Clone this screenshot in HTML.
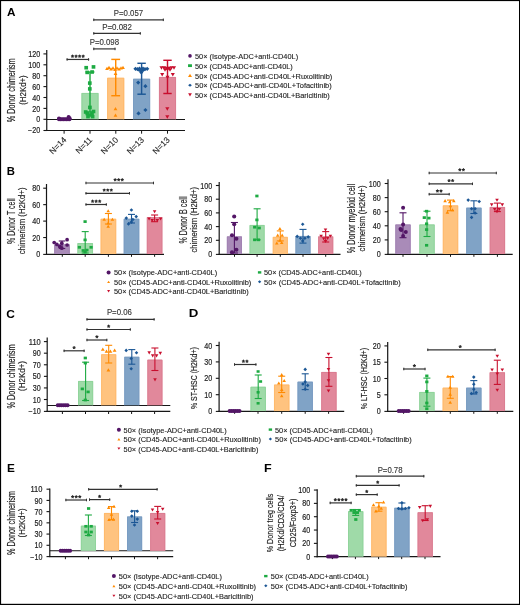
<!DOCTYPE html>
<html><head><meta charset="utf-8"><style>
html,body{margin:0;padding:0;background:#fff;overflow:hidden;}
svg{display:block;font-family:"Liberation Sans", sans-serif;will-change:transform;}
text{stroke:currentColor;stroke-width:0.12px;}
</style></head><body>
<svg width="520" height="605" viewBox="0 0 520 605">
<defs><filter id="bl" x="-2%" y="-2%" width="104%" height="104%"><feGaussianBlur stdDeviation="0.45"/></filter></defs>
<rect x="0" y="0" width="520" height="605" fill="#fff"/>
<g filter="url(#bl)">
<rect x="0" y="0" width="520" height="605" fill="#fff"/>
<text x="11.15" y="15.70" font-size="11.3" text-anchor="middle" font-weight="bold" fill="#000" color="#000" textLength="8.5" lengthAdjust="spacingAndGlyphs" style="stroke-width:0px">A</text>
<line x1="46.75" y1="50.00" x2="46.75" y2="131.00" stroke="#151515" stroke-width="1.2"/>
<line x1="43.45" y1="53.90" x2="46.75" y2="53.90" stroke="#151515" stroke-width="1.1"/>
<text x="40.20" y="57.00" font-size="8.4" text-anchor="end" font-weight="normal" fill="#222" color="#222" textLength="11.99" lengthAdjust="spacingAndGlyphs" style="stroke-width:0.18px">120</text>
<line x1="43.45" y1="64.80" x2="46.75" y2="64.80" stroke="#151515" stroke-width="1.1"/>
<text x="40.20" y="67.90" font-size="8.4" text-anchor="end" font-weight="normal" fill="#222" color="#222" textLength="11.99" lengthAdjust="spacingAndGlyphs" style="stroke-width:0.18px">100</text>
<line x1="43.45" y1="75.70" x2="46.75" y2="75.70" stroke="#151515" stroke-width="1.1"/>
<text x="40.20" y="78.80" font-size="8.4" text-anchor="end" font-weight="normal" fill="#222" color="#222" textLength="7.99" lengthAdjust="spacingAndGlyphs" style="stroke-width:0.18px">80</text>
<line x1="43.45" y1="86.60" x2="46.75" y2="86.60" stroke="#151515" stroke-width="1.1"/>
<text x="40.20" y="89.70" font-size="8.4" text-anchor="end" font-weight="normal" fill="#222" color="#222" textLength="7.99" lengthAdjust="spacingAndGlyphs" style="stroke-width:0.18px">60</text>
<line x1="43.45" y1="97.50" x2="46.75" y2="97.50" stroke="#151515" stroke-width="1.1"/>
<text x="40.20" y="100.60" font-size="8.4" text-anchor="end" font-weight="normal" fill="#222" color="#222" textLength="7.99" lengthAdjust="spacingAndGlyphs" style="stroke-width:0.18px">40</text>
<line x1="43.45" y1="108.40" x2="46.75" y2="108.40" stroke="#151515" stroke-width="1.1"/>
<text x="40.20" y="111.50" font-size="8.4" text-anchor="end" font-weight="normal" fill="#222" color="#222" textLength="7.99" lengthAdjust="spacingAndGlyphs" style="stroke-width:0.18px">20</text>
<line x1="43.45" y1="119.30" x2="46.75" y2="119.30" stroke="#151515" stroke-width="1.1"/>
<text x="40.20" y="122.40" font-size="8.4" text-anchor="end" font-weight="normal" fill="#222" color="#222" textLength="4.0" lengthAdjust="spacingAndGlyphs" style="stroke-width:0.18px">0</text>
<line x1="43.45" y1="130.50" x2="46.75" y2="130.50" stroke="#151515" stroke-width="1.1"/>
<text x="40.20" y="133.30" font-size="8.4" text-anchor="end" font-weight="normal" fill="#222" color="#222" textLength="12.19" lengthAdjust="spacingAndGlyphs" style="stroke-width:0.18px">−20</text>
<line x1="46.15" y1="130.50" x2="185.00" y2="130.50" stroke="#151515" stroke-width="1.2"/>
<line x1="64.10" y1="130.50" x2="64.10" y2="133.70" stroke="#151515" stroke-width="1"/>
<line x1="90.00" y1="130.50" x2="90.00" y2="133.70" stroke="#151515" stroke-width="1"/>
<line x1="115.80" y1="130.50" x2="115.80" y2="133.70" stroke="#151515" stroke-width="1"/>
<line x1="141.60" y1="130.50" x2="141.60" y2="133.70" stroke="#151515" stroke-width="1"/>
<line x1="167.50" y1="130.50" x2="167.50" y2="133.70" stroke="#151515" stroke-width="1"/>
<line x1="46.75" y1="119.50" x2="185.00" y2="119.50" stroke="#151515" stroke-width="1.1"/>
<text transform="translate(14.90,90.30) rotate(-90)" font-size="10.3" text-anchor="middle" font-weight="normal" fill="#222" color="#222" textLength="63.8" lengthAdjust="spacingAndGlyphs" style="stroke-width:0.16px">% Donor chimerism</text>
<text transform="translate(26.00,90.00) rotate(-90)" font-size="8.8" text-anchor="middle" font-weight="normal" fill="#222" color="#222" textLength="29.5" lengthAdjust="spacingAndGlyphs" style="stroke-width:0.16px">(H2Kd+)</text>
<rect x="81.50" y="93.00" width="17.00" height="26.30" fill="#9fdaa8"/>
<path d="M81.90,119.30V93.40H98.10V119.30" fill="none" stroke="#8bd297" stroke-width="0.8"/>
<line x1="90.00" y1="72.00" x2="90.00" y2="112.00" stroke="#1eaa42" stroke-width="1.45"/>
<line x1="85.60" y1="72.00" x2="94.40" y2="72.00" stroke="#1eaa42" stroke-width="1.45"/>
<line x1="85.60" y1="112.00" x2="94.40" y2="112.00" stroke="#1eaa42" stroke-width="1.45"/>
<rect x="107.20" y="77.80" width="17.00" height="41.50" fill="#ffc37f"/>
<path d="M107.60,119.30V78.20H123.80V119.30" fill="none" stroke="#ffb664" stroke-width="0.8"/>
<line x1="115.70" y1="59.40" x2="115.70" y2="95.70" stroke="#ff8a00" stroke-width="1.45"/>
<line x1="111.30" y1="59.40" x2="120.10" y2="59.40" stroke="#ff8a00" stroke-width="1.45"/>
<line x1="111.30" y1="95.70" x2="120.10" y2="95.70" stroke="#ff8a00" stroke-width="1.45"/>
<rect x="133.10" y="78.80" width="17.00" height="40.50" fill="#80a3c6"/>
<path d="M133.50,119.30V79.20H149.70V119.30" fill="none" stroke="#7699c0" stroke-width="0.8"/>
<line x1="141.60" y1="63.30" x2="141.60" y2="94.20" stroke="#1b5795" stroke-width="1.45"/>
<line x1="137.40" y1="63.30" x2="145.80" y2="63.30" stroke="#1b5795" stroke-width="1.45"/>
<line x1="137.40" y1="94.20" x2="145.80" y2="94.20" stroke="#1b5795" stroke-width="1.45"/>
<rect x="159.00" y="77.00" width="17.00" height="42.30" fill="#e1889b"/>
<path d="M159.40,119.30V77.40H175.60V119.30" fill="none" stroke="#d97a8e" stroke-width="0.8"/>
<line x1="167.50" y1="60.30" x2="167.50" y2="93.50" stroke="#c8102e" stroke-width="1.45"/>
<line x1="163.30" y1="60.30" x2="171.70" y2="60.30" stroke="#c8102e" stroke-width="1.45"/>
<line x1="163.30" y1="93.50" x2="171.70" y2="93.50" stroke="#c8102e" stroke-width="1.45"/>
<circle cx="59.00" cy="119.30" r="2.00" fill="#521566"/>
<circle cx="60.50" cy="119.30" r="2.00" fill="#521566"/>
<circle cx="62.00" cy="119.30" r="2.00" fill="#521566"/>
<circle cx="63.50" cy="119.30" r="2.00" fill="#521566"/>
<circle cx="65.00" cy="119.30" r="2.00" fill="#521566"/>
<circle cx="66.50" cy="119.30" r="2.00" fill="#521566"/>
<circle cx="68.00" cy="119.30" r="2.00" fill="#521566"/>
<circle cx="69.50" cy="119.30" r="2.00" fill="#521566"/>
<circle cx="59.00" cy="118.40" r="2.00" fill="#521566"/>
<circle cx="68.60" cy="116.90" r="2.00" fill="#521566"/>
<circle cx="69.60" cy="118.20" r="2.00" fill="#521566"/>
<rect x="84.35" y="65.91" width="3.70" height="3.59" fill="#1eaa42"/>
<rect x="91.65" y="65.11" width="3.70" height="3.59" fill="#1eaa42"/>
<rect x="85.35" y="70.61" width="3.70" height="3.59" fill="#1eaa42"/>
<rect x="90.25" y="70.21" width="3.70" height="3.59" fill="#1eaa42"/>
<rect x="87.95" y="81.31" width="3.70" height="3.59" fill="#1eaa42"/>
<rect x="87.95" y="87.11" width="3.70" height="3.59" fill="#1eaa42"/>
<rect x="88.05" y="105.61" width="3.70" height="3.59" fill="#1eaa42"/>
<rect x="83.85" y="110.21" width="3.70" height="3.59" fill="#1eaa42"/>
<rect x="91.65" y="109.71" width="3.70" height="3.59" fill="#1eaa42"/>
<rect x="85.45" y="111.71" width="3.70" height="3.59" fill="#1eaa42"/>
<rect x="90.15" y="111.71" width="3.70" height="3.59" fill="#1eaa42"/>
<rect x="86.15" y="114.81" width="3.70" height="3.59" fill="#1eaa42"/>
<rect x="90.75" y="114.81" width="3.70" height="3.59" fill="#1eaa42"/>
<rect x="88.15" y="113.21" width="3.70" height="3.59" fill="#1eaa42"/>
<path d="M107.00,66.70L108.89,69.94L105.11,69.94Z" fill="#ff8a00"/>
<path d="M109.00,65.70L110.89,68.94L107.11,68.94Z" fill="#ff8a00"/>
<path d="M111.00,67.20L112.89,70.44L109.11,70.44Z" fill="#ff8a00"/>
<path d="M113.00,66.20L114.89,69.44L111.11,69.44Z" fill="#ff8a00"/>
<path d="M115.00,67.70L116.89,70.94L113.11,70.94Z" fill="#ff8a00"/>
<path d="M117.00,66.20L118.89,69.44L115.11,69.44Z" fill="#ff8a00"/>
<path d="M119.00,67.20L120.89,70.44L117.11,70.44Z" fill="#ff8a00"/>
<path d="M121.00,66.20L122.89,69.44L119.11,69.44Z" fill="#ff8a00"/>
<path d="M123.00,65.70L124.89,68.94L121.11,68.94Z" fill="#ff8a00"/>
<path d="M115.50,71.70L117.39,74.94L113.61,74.94Z" fill="#ff8a00"/>
<path d="M115.50,107.00L117.39,110.24L113.61,110.24Z" fill="#ff8a00"/>
<path d="M115.50,113.40L117.39,116.64L113.61,116.64Z" fill="#ff8a00"/>
<path d="M135.50,66.70L137.60,68.80L135.50,70.90L133.40,68.80Z" fill="#1b5795"/>
<path d="M137.50,67.10L139.60,69.20L137.50,71.30L135.40,69.20Z" fill="#1b5795"/>
<path d="M139.20,67.90L141.30,70.00L139.20,72.10L137.10,70.00Z" fill="#1b5795"/>
<path d="M141.30,68.90L143.40,71.00L141.30,73.10L139.20,71.00Z" fill="#1b5795"/>
<path d="M143.30,67.90L145.40,70.00L143.30,72.10L141.20,70.00Z" fill="#1b5795"/>
<path d="M145.00,67.10L147.10,69.20L145.00,71.30L142.90,69.20Z" fill="#1b5795"/>
<path d="M147.20,66.70L149.30,68.80L147.20,70.90L145.10,68.80Z" fill="#1b5795"/>
<path d="M141.30,70.40L143.40,72.50L141.30,74.60L139.20,72.50Z" fill="#1b5795"/>
<path d="M141.30,67.40L143.40,69.50L141.30,71.60L139.20,69.50Z" fill="#1b5795"/>
<path d="M139.50,66.40L141.60,68.50L139.50,70.60L137.40,68.50Z" fill="#1b5795"/>
<path d="M143.00,66.40L145.10,68.50L143.00,70.60L140.90,68.50Z" fill="#1b5795"/>
<path d="M138.20,80.50L140.30,82.60L138.20,84.70L136.10,82.60Z" fill="#1b5795"/>
<path d="M145.40,84.10L147.50,86.20L145.40,88.30L143.30,86.20Z" fill="#1b5795"/>
<path d="M138.50,111.30L140.60,113.40L138.50,115.50L136.40,113.40Z" fill="#1b5795"/>
<path d="M145.40,107.90L147.50,110.00L145.40,112.10L143.30,110.00Z" fill="#1b5795"/>
<path d="M161.50,69.75L163.55,66.24L159.45,66.24Z" fill="#c8102e"/>
<path d="M164.00,69.75L166.05,66.24L161.95,66.24Z" fill="#c8102e"/>
<path d="M166.50,70.15L168.55,66.64L164.45,66.64Z" fill="#c8102e"/>
<path d="M169.00,70.15L171.05,66.64L166.95,66.64Z" fill="#c8102e"/>
<path d="M171.50,69.75L173.55,66.24L169.45,66.24Z" fill="#c8102e"/>
<path d="M174.00,69.75L176.05,66.24L171.95,66.24Z" fill="#c8102e"/>
<path d="M165.00,71.75L167.05,68.24L162.95,68.24Z" fill="#c8102e"/>
<path d="M170.00,71.75L172.05,68.24L167.95,68.24Z" fill="#c8102e"/>
<path d="M167.50,71.25L169.55,67.74L165.45,67.74Z" fill="#c8102e"/>
<path d="M162.20,76.55L164.25,73.04L160.15,73.04Z" fill="#c8102e"/>
<path d="M172.80,76.55L174.85,73.04L170.75,73.04Z" fill="#c8102e"/>
<path d="M167.50,79.15L169.55,75.64L165.45,75.64Z" fill="#c8102e"/>
<path d="M167.30,110.75L169.35,107.24L165.25,107.24Z" fill="#c8102e"/>
<path d="M167.30,118.85L169.35,115.34L165.25,115.34Z" fill="#c8102e"/>
<text transform="translate(67.00,140.40) rotate(-45)" font-size="8.4" text-anchor="end" font-weight="normal" fill="#222" color="#222" style="stroke-width:0.1px">N=14</text>
<text transform="translate(92.90,140.40) rotate(-45)" font-size="8.4" text-anchor="end" font-weight="normal" fill="#222" color="#222" style="stroke-width:0.1px">N=11</text>
<text transform="translate(118.70,140.40) rotate(-45)" font-size="8.4" text-anchor="end" font-weight="normal" fill="#222" color="#222" style="stroke-width:0.1px">N=10</text>
<text transform="translate(144.50,140.40) rotate(-45)" font-size="8.4" text-anchor="end" font-weight="normal" fill="#222" color="#222" style="stroke-width:0.1px">N=13</text>
<text transform="translate(170.40,140.40) rotate(-45)" font-size="8.4" text-anchor="end" font-weight="normal" fill="#222" color="#222" style="stroke-width:0.1px">N=13</text>
<line x1="66.60" y1="59.45" x2="89.10" y2="59.45" stroke="#333" stroke-width="1.2"/>
<line x1="67.10" y1="58.15" x2="67.10" y2="60.75" stroke="#333" stroke-width="1"/>
<line x1="88.60" y1="58.15" x2="88.60" y2="60.75" stroke="#333" stroke-width="1"/>
<path d="M72.52,56.25L72.52,55.10M72.52,56.25L71.43,55.89M72.52,56.25L71.85,57.18M72.52,56.25L73.20,57.18M72.52,56.25L73.62,55.89" stroke="#2a2a2a" stroke-width="1.1" stroke-linecap="round" fill="none"/>
<path d="M76.07,56.25L76.07,55.10M76.07,56.25L74.98,55.89M76.07,56.25L75.40,57.18M76.07,56.25L76.75,57.18M76.07,56.25L77.17,55.89" stroke="#2a2a2a" stroke-width="1.1" stroke-linecap="round" fill="none"/>
<path d="M79.62,56.25L79.62,55.10M79.62,56.25L78.53,55.89M79.62,56.25L78.95,57.18M79.62,56.25L80.30,57.18M79.62,56.25L80.72,55.89" stroke="#2a2a2a" stroke-width="1.1" stroke-linecap="round" fill="none"/>
<path d="M83.17,56.25L83.17,55.10M83.17,56.25L82.08,55.89M83.17,56.25L82.50,57.18M83.17,56.25L83.85,57.18M83.17,56.25L84.27,55.89" stroke="#2a2a2a" stroke-width="1.1" stroke-linecap="round" fill="none"/>
<line x1="93.30" y1="48.90" x2="115.50" y2="48.90" stroke="#333" stroke-width="1.2"/>
<line x1="93.80" y1="47.60" x2="93.80" y2="50.20" stroke="#333" stroke-width="1"/>
<line x1="115.00" y1="47.60" x2="115.00" y2="50.20" stroke="#333" stroke-width="1"/>
<text x="104.40" y="44.80" font-size="8.5" text-anchor="middle" font-weight="normal" fill="#333" color="#333" textLength="29.4" lengthAdjust="spacingAndGlyphs">P=0.098</text>
<line x1="93.30" y1="33.40" x2="140.80" y2="33.40" stroke="#333" stroke-width="1.2"/>
<line x1="93.80" y1="32.10" x2="93.80" y2="34.70" stroke="#333" stroke-width="1"/>
<line x1="140.30" y1="32.10" x2="140.30" y2="34.70" stroke="#333" stroke-width="1"/>
<text x="117.00" y="29.60" font-size="8.5" text-anchor="middle" font-weight="normal" fill="#333" color="#333" textLength="29.7" lengthAdjust="spacingAndGlyphs">P=0.082</text>
<line x1="93.30" y1="19.80" x2="163.80" y2="19.80" stroke="#333" stroke-width="1.2"/>
<line x1="93.80" y1="18.50" x2="93.80" y2="21.10" stroke="#333" stroke-width="1"/>
<line x1="163.30" y1="18.50" x2="163.30" y2="21.10" stroke="#333" stroke-width="1"/>
<text x="128.50" y="15.70" font-size="8.5" text-anchor="middle" font-weight="normal" fill="#333" color="#333" textLength="29.3" lengthAdjust="spacingAndGlyphs">P=0.057</text>
<ellipse cx="190.00" cy="55.90" rx="1.80" ry="1.80" fill="#521566"/>
<text x="195.00" y="59.10" font-size="7.9" text-anchor="start" font-weight="normal" fill="#222" color="#222" textLength="103.1" lengthAdjust="spacingAndGlyphs" style="stroke-width:0.12px">50× (Isotype-ADC+anti-CD40L)</text>
<rect x="188.05" y="64.25" width="3.90" height="2.80" fill="#1eaa42"/>
<text x="195.00" y="68.85" font-size="7.9" text-anchor="start" font-weight="normal" fill="#222" color="#222" textLength="97.8" lengthAdjust="spacingAndGlyphs" style="stroke-width:0.12px">50× (CD45-ADC+anti-CD40L)</text>
<path d="M190.00,73.80L192.00,77.00L188.00,77.00Z" fill="#ff8a00"/>
<text x="195.00" y="78.60" font-size="7.9" text-anchor="start" font-weight="normal" fill="#222" color="#222" textLength="137.3" lengthAdjust="spacingAndGlyphs" style="stroke-width:0.12px">50× (CD45-ADC+anti-CD40L+Ruxolitinib)</text>
<path d="M190.00,83.65L191.90,85.15L190.00,86.65L188.10,85.15Z" fill="#1b5795"/>
<text x="195.00" y="88.35" font-size="7.9" text-anchor="start" font-weight="normal" fill="#222" color="#222" textLength="136.7" lengthAdjust="spacingAndGlyphs" style="stroke-width:0.12px">50× (CD45-ADC+anti-CD40L+Tofacitinib)</text>
<path d="M190.00,96.50L191.85,93.30L188.15,93.30Z" fill="#c8102e"/>
<text x="195.00" y="98.10" font-size="7.9" text-anchor="start" font-weight="normal" fill="#222" color="#222" textLength="134.8" lengthAdjust="spacingAndGlyphs" style="stroke-width:0.12px">50× (CD45-ADC+anti-CD40L+Baricitinib)</text>
<text x="10.80" y="174.50" font-size="11.3" text-anchor="middle" font-weight="bold" fill="#000" color="#000" textLength="8.18" lengthAdjust="spacingAndGlyphs" style="stroke-width:0px">B</text>
<line x1="46.50" y1="184.00" x2="46.50" y2="254.90" stroke="#151515" stroke-width="1.2"/>
<line x1="43.20" y1="188.20" x2="46.50" y2="188.20" stroke="#151515" stroke-width="1.1"/>
<text x="40.20" y="191.30" font-size="8.4" text-anchor="end" font-weight="normal" fill="#222" color="#222" textLength="7.99" lengthAdjust="spacingAndGlyphs" style="stroke-width:0.18px">80</text>
<line x1="43.20" y1="204.65" x2="46.50" y2="204.65" stroke="#151515" stroke-width="1.1"/>
<text x="40.20" y="207.75" font-size="8.4" text-anchor="end" font-weight="normal" fill="#222" color="#222" textLength="7.99" lengthAdjust="spacingAndGlyphs" style="stroke-width:0.18px">60</text>
<line x1="43.20" y1="221.10" x2="46.50" y2="221.10" stroke="#151515" stroke-width="1.1"/>
<text x="40.20" y="224.20" font-size="8.4" text-anchor="end" font-weight="normal" fill="#222" color="#222" textLength="7.99" lengthAdjust="spacingAndGlyphs" style="stroke-width:0.18px">40</text>
<line x1="43.20" y1="237.55" x2="46.50" y2="237.55" stroke="#151515" stroke-width="1.1"/>
<text x="40.20" y="240.65" font-size="8.4" text-anchor="end" font-weight="normal" fill="#222" color="#222" textLength="7.99" lengthAdjust="spacingAndGlyphs" style="stroke-width:0.18px">20</text>
<line x1="43.20" y1="254.40" x2="46.50" y2="254.40" stroke="#151515" stroke-width="1.1"/>
<text x="40.20" y="257.10" font-size="8.4" text-anchor="end" font-weight="normal" fill="#222" color="#222" textLength="4.0" lengthAdjust="spacingAndGlyphs" style="stroke-width:0.18px">0</text>
<line x1="45.90" y1="254.40" x2="164.00" y2="254.40" stroke="#151515" stroke-width="1.2"/>
<line x1="62.30" y1="254.40" x2="62.30" y2="256.80" stroke="#151515" stroke-width="1"/>
<line x1="85.20" y1="254.40" x2="85.20" y2="256.80" stroke="#151515" stroke-width="1"/>
<line x1="108.40" y1="254.40" x2="108.40" y2="256.80" stroke="#151515" stroke-width="1"/>
<line x1="131.50" y1="254.40" x2="131.50" y2="256.80" stroke="#151515" stroke-width="1"/>
<line x1="154.60" y1="254.40" x2="154.60" y2="256.80" stroke="#151515" stroke-width="1"/>
<text transform="translate(14.90,221.20) rotate(-90)" font-size="10.3" text-anchor="middle" font-weight="normal" fill="#222" color="#222" textLength="45.5" lengthAdjust="spacingAndGlyphs" style="stroke-width:0.16px">% Donor T cell</text>
<text transform="translate(25.40,220.90) rotate(-90)" font-size="9.0" text-anchor="middle" font-weight="normal" fill="#222" color="#222" textLength="66.8" lengthAdjust="spacingAndGlyphs" style="stroke-width:0.16px">chimerism (H2Kd+)</text>
<rect x="54.25" y="244.40" width="15.50" height="9.60" fill="#a98bb8"/>
<path d="M54.65,254.00V244.80H69.35V254.00" fill="none" stroke="#9e7db0" stroke-width="0.8"/>
<line x1="62.00" y1="241.00" x2="62.00" y2="248.50" stroke="#521566" stroke-width="1.1"/>
<line x1="58.75" y1="241.00" x2="65.25" y2="241.00" stroke="#521566" stroke-width="1.1"/>
<line x1="58.75" y1="248.50" x2="65.25" y2="248.50" stroke="#521566" stroke-width="1.1"/>
<rect x="77.45" y="243.10" width="15.50" height="10.90" fill="#9fdaa8"/>
<path d="M77.85,254.00V243.50H92.55V254.00" fill="none" stroke="#8bd297" stroke-width="0.8"/>
<line x1="85.20" y1="231.60" x2="85.20" y2="253.00" stroke="#1eaa42" stroke-width="1.1"/>
<line x1="81.70" y1="231.60" x2="88.70" y2="231.60" stroke="#1eaa42" stroke-width="1.1"/>
<line x1="81.70" y1="253.00" x2="88.70" y2="253.00" stroke="#1eaa42" stroke-width="1.1"/>
<rect x="100.65" y="218.80" width="15.50" height="35.20" fill="#ffc37f"/>
<path d="M101.05,254.00V219.20H115.75V254.00" fill="none" stroke="#ffb664" stroke-width="0.8"/>
<line x1="108.40" y1="213.50" x2="108.40" y2="224.00" stroke="#ff8a00" stroke-width="1.1"/>
<line x1="104.90" y1="213.50" x2="111.90" y2="213.50" stroke="#ff8a00" stroke-width="1.1"/>
<line x1="104.90" y1="224.00" x2="111.90" y2="224.00" stroke="#ff8a00" stroke-width="1.1"/>
<rect x="123.75" y="218.80" width="15.50" height="35.20" fill="#80a3c6"/>
<path d="M124.15,254.00V219.20H138.85V254.00" fill="none" stroke="#7699c0" stroke-width="0.8"/>
<line x1="131.50" y1="214.40" x2="131.50" y2="223.00" stroke="#1b5795" stroke-width="1.1"/>
<line x1="128.00" y1="214.40" x2="135.00" y2="214.40" stroke="#1b5795" stroke-width="1.1"/>
<line x1="128.00" y1="223.00" x2="135.00" y2="223.00" stroke="#1b5795" stroke-width="1.1"/>
<rect x="146.85" y="217.20" width="15.50" height="36.80" fill="#e1889b"/>
<path d="M147.25,254.00V217.60H161.95V254.00" fill="none" stroke="#d97a8e" stroke-width="0.8"/>
<line x1="154.60" y1="215.00" x2="154.60" y2="221.70" stroke="#c8102e" stroke-width="1.1"/>
<line x1="151.10" y1="215.00" x2="158.10" y2="215.00" stroke="#c8102e" stroke-width="1.1"/>
<line x1="151.10" y1="221.70" x2="158.10" y2="221.70" stroke="#c8102e" stroke-width="1.1"/>
<circle cx="54.20" cy="242.50" r="1.85" fill="#521566"/>
<circle cx="56.90" cy="244.40" r="1.85" fill="#521566"/>
<circle cx="61.80" cy="243.20" r="1.85" fill="#521566"/>
<circle cx="67.10" cy="239.70" r="1.85" fill="#521566"/>
<circle cx="67.10" cy="245.00" r="1.85" fill="#521566"/>
<circle cx="61.80" cy="248.20" r="1.85" fill="#521566"/>
<circle cx="59.70" cy="246.40" r="1.85" fill="#521566"/>
<rect x="83.48" y="220.24" width="3.23" height="2.72" fill="#1eaa42"/>
<rect x="83.48" y="238.54" width="3.23" height="2.72" fill="#1eaa42"/>
<rect x="77.79" y="245.94" width="3.23" height="2.72" fill="#1eaa42"/>
<rect x="89.48" y="245.94" width="3.23" height="2.72" fill="#1eaa42"/>
<rect x="81.59" y="249.14" width="3.23" height="2.72" fill="#1eaa42"/>
<rect x="85.29" y="248.74" width="3.23" height="2.72" fill="#1eaa42"/>
<rect x="83.48" y="250.64" width="3.23" height="2.72" fill="#1eaa42"/>
<path d="M108.20,209.30L109.98,212.36L106.42,212.36Z" fill="#ff8a00"/>
<path d="M104.20,217.80L105.98,220.86L102.42,220.86Z" fill="#ff8a00"/>
<path d="M112.40,217.80L114.19,220.86L110.62,220.86Z" fill="#ff8a00"/>
<path d="M108.20,221.50L109.98,224.56L106.42,224.56Z" fill="#ff8a00"/>
<path d="M108.20,224.80L109.98,227.86L106.42,227.86Z" fill="#ff8a00"/>
<path d="M131.40,208.22L133.19,210.00L131.40,211.78L129.62,210.00Z" fill="#1b5795"/>
<path d="M126.30,216.31L128.09,218.10L126.30,219.88L124.52,218.10Z" fill="#1b5795"/>
<path d="M136.20,214.81L137.98,216.60L136.20,218.38L134.41,216.60Z" fill="#1b5795"/>
<path d="M128.50,222.12L130.28,223.90L128.50,225.69L126.72,223.90Z" fill="#1b5795"/>
<path d="M131.40,220.31L133.19,222.10L131.40,223.88L129.62,222.10Z" fill="#1b5795"/>
<path d="M132.90,217.72L134.69,219.50L132.90,221.28L131.12,219.50Z" fill="#1b5795"/>
<path d="M154.60,213.20L156.38,210.14L152.81,210.14Z" fill="#c8102e"/>
<path d="M149.10,220.50L150.88,217.44L147.31,217.44Z" fill="#c8102e"/>
<path d="M160.60,220.50L162.38,217.44L158.81,217.44Z" fill="#c8102e"/>
<path d="M152.20,222.00L153.98,218.94L150.41,218.94Z" fill="#c8102e"/>
<path d="M157.30,222.00L159.09,218.94L155.52,218.94Z" fill="#c8102e"/>
<line x1="85.50" y1="204.50" x2="106.80" y2="204.50" stroke="#333" stroke-width="1.2"/>
<line x1="86.00" y1="203.20" x2="86.00" y2="205.80" stroke="#333" stroke-width="1"/>
<line x1="106.30" y1="203.20" x2="106.30" y2="205.80" stroke="#333" stroke-width="1"/>
<path d="M92.60,201.30L92.60,200.15M92.60,201.30L91.51,200.94M92.60,201.30L91.92,202.23M92.60,201.30L93.28,202.23M92.60,201.30L93.69,200.94" stroke="#2a2a2a" stroke-width="1.1" stroke-linecap="round" fill="none"/>
<path d="M96.15,201.30L96.15,200.15M96.15,201.30L95.06,200.94M96.15,201.30L95.47,202.23M96.15,201.30L96.83,202.23M96.15,201.30L97.24,200.94" stroke="#2a2a2a" stroke-width="1.1" stroke-linecap="round" fill="none"/>
<path d="M99.70,201.30L99.70,200.15M99.70,201.30L98.61,200.94M99.70,201.30L99.02,202.23M99.70,201.30L100.38,202.23M99.70,201.30L100.79,200.94" stroke="#2a2a2a" stroke-width="1.1" stroke-linecap="round" fill="none"/>
<line x1="85.50" y1="193.30" x2="130.00" y2="193.30" stroke="#333" stroke-width="1.2"/>
<line x1="86.00" y1="192.00" x2="86.00" y2="194.60" stroke="#333" stroke-width="1"/>
<line x1="129.50" y1="192.00" x2="129.50" y2="194.60" stroke="#333" stroke-width="1"/>
<path d="M104.20,190.10L104.20,188.95M104.20,190.10L103.11,189.74M104.20,190.10L103.52,191.03M104.20,190.10L104.88,191.03M104.20,190.10L105.29,189.74" stroke="#2a2a2a" stroke-width="1.1" stroke-linecap="round" fill="none"/>
<path d="M107.75,190.10L107.75,188.95M107.75,190.10L106.66,189.74M107.75,190.10L107.07,191.03M107.75,190.10L108.43,191.03M107.75,190.10L108.84,189.74" stroke="#2a2a2a" stroke-width="1.1" stroke-linecap="round" fill="none"/>
<path d="M111.30,190.10L111.30,188.95M111.30,190.10L110.21,189.74M111.30,190.10L110.62,191.03M111.30,190.10L111.98,191.03M111.30,190.10L112.39,189.74" stroke="#2a2a2a" stroke-width="1.1" stroke-linecap="round" fill="none"/>
<line x1="85.50" y1="183.00" x2="154.00" y2="183.00" stroke="#333" stroke-width="1.2"/>
<line x1="86.00" y1="181.70" x2="86.00" y2="184.30" stroke="#333" stroke-width="1"/>
<line x1="153.50" y1="181.70" x2="153.50" y2="184.30" stroke="#333" stroke-width="1"/>
<path d="M115.15,179.80L115.15,178.65M115.15,179.80L114.06,179.44M115.15,179.80L114.47,180.73M115.15,179.80L115.83,180.73M115.15,179.80L116.24,179.44" stroke="#2a2a2a" stroke-width="1.1" stroke-linecap="round" fill="none"/>
<path d="M118.70,179.80L118.70,178.65M118.70,179.80L117.61,179.44M118.70,179.80L118.02,180.73M118.70,179.80L119.38,180.73M118.70,179.80L119.79,179.44" stroke="#2a2a2a" stroke-width="1.1" stroke-linecap="round" fill="none"/>
<path d="M122.25,179.80L122.25,178.65M122.25,179.80L121.16,179.44M122.25,179.80L121.57,180.73M122.25,179.80L122.93,180.73M122.25,179.80L123.34,179.44" stroke="#2a2a2a" stroke-width="1.1" stroke-linecap="round" fill="none"/>
<line x1="219.20" y1="182.00" x2="219.20" y2="254.90" stroke="#151515" stroke-width="1.2"/>
<line x1="215.90" y1="185.50" x2="219.20" y2="185.50" stroke="#151515" stroke-width="1.1"/>
<text x="212.20" y="188.60" font-size="8.4" text-anchor="end" font-weight="normal" fill="#222" color="#222" textLength="11.99" lengthAdjust="spacingAndGlyphs" style="stroke-width:0.18px">100</text>
<line x1="215.90" y1="199.20" x2="219.20" y2="199.20" stroke="#151515" stroke-width="1.1"/>
<text x="212.20" y="202.30" font-size="8.4" text-anchor="end" font-weight="normal" fill="#222" color="#222" textLength="7.99" lengthAdjust="spacingAndGlyphs" style="stroke-width:0.18px">80</text>
<line x1="215.90" y1="212.90" x2="219.20" y2="212.90" stroke="#151515" stroke-width="1.1"/>
<text x="212.20" y="216.00" font-size="8.4" text-anchor="end" font-weight="normal" fill="#222" color="#222" textLength="7.99" lengthAdjust="spacingAndGlyphs" style="stroke-width:0.18px">60</text>
<line x1="215.90" y1="226.60" x2="219.20" y2="226.60" stroke="#151515" stroke-width="1.1"/>
<text x="212.20" y="229.70" font-size="8.4" text-anchor="end" font-weight="normal" fill="#222" color="#222" textLength="7.99" lengthAdjust="spacingAndGlyphs" style="stroke-width:0.18px">40</text>
<line x1="215.90" y1="240.30" x2="219.20" y2="240.30" stroke="#151515" stroke-width="1.1"/>
<text x="212.20" y="243.40" font-size="8.4" text-anchor="end" font-weight="normal" fill="#222" color="#222" textLength="7.99" lengthAdjust="spacingAndGlyphs" style="stroke-width:0.18px">20</text>
<line x1="215.90" y1="254.40" x2="219.20" y2="254.40" stroke="#151515" stroke-width="1.1"/>
<text x="212.20" y="257.10" font-size="8.4" text-anchor="end" font-weight="normal" fill="#222" color="#222" textLength="4.0" lengthAdjust="spacingAndGlyphs" style="stroke-width:0.18px">0</text>
<line x1="218.60" y1="254.40" x2="340.50" y2="254.40" stroke="#151515" stroke-width="1.2"/>
<line x1="234.50" y1="254.40" x2="234.50" y2="256.80" stroke="#151515" stroke-width="1"/>
<line x1="257.10" y1="254.40" x2="257.10" y2="256.80" stroke="#151515" stroke-width="1"/>
<line x1="280.30" y1="254.40" x2="280.30" y2="256.80" stroke="#151515" stroke-width="1"/>
<line x1="303.00" y1="254.40" x2="303.00" y2="256.80" stroke="#151515" stroke-width="1"/>
<line x1="325.70" y1="254.40" x2="325.70" y2="256.80" stroke="#151515" stroke-width="1"/>
<text transform="translate(186.80,220.00) rotate(-90)" font-size="10.3" text-anchor="middle" font-weight="normal" fill="#222" color="#222" textLength="47.0" lengthAdjust="spacingAndGlyphs" style="stroke-width:0.16px">% Donor B cell</text>
<text transform="translate(197.00,219.80) rotate(-90)" font-size="9.0" text-anchor="middle" font-weight="normal" fill="#222" color="#222" textLength="65.6" lengthAdjust="spacingAndGlyphs" style="stroke-width:0.16px">chimerism (H2Kd+)</text>
<rect x="226.90" y="236.40" width="15.00" height="17.60" fill="#a98bb8"/>
<path d="M227.30,254.00V236.80H241.50V254.00" fill="none" stroke="#9e7db0" stroke-width="0.8"/>
<line x1="234.40" y1="222.50" x2="234.40" y2="253.00" stroke="#521566" stroke-width="1.1"/>
<line x1="230.90" y1="222.50" x2="237.90" y2="222.50" stroke="#521566" stroke-width="1.1"/>
<line x1="230.90" y1="253.00" x2="237.90" y2="253.00" stroke="#521566" stroke-width="1.1"/>
<rect x="249.60" y="225.00" width="15.00" height="29.00" fill="#9fdaa8"/>
<path d="M250.00,254.00V225.40H264.20V254.00" fill="none" stroke="#8bd297" stroke-width="0.8"/>
<line x1="257.10" y1="208.80" x2="257.10" y2="239.80" stroke="#1eaa42" stroke-width="1.1"/>
<line x1="253.60" y1="208.80" x2="260.60" y2="208.80" stroke="#1eaa42" stroke-width="1.1"/>
<line x1="253.60" y1="239.80" x2="260.60" y2="239.80" stroke="#1eaa42" stroke-width="1.1"/>
<rect x="272.80" y="236.90" width="15.00" height="17.10" fill="#ffc37f"/>
<path d="M273.20,254.00V237.30H287.40V254.00" fill="none" stroke="#ffb664" stroke-width="0.8"/>
<line x1="280.30" y1="230.90" x2="280.30" y2="240.90" stroke="#ff8a00" stroke-width="1.1"/>
<line x1="276.80" y1="230.90" x2="283.80" y2="230.90" stroke="#ff8a00" stroke-width="1.1"/>
<line x1="276.80" y1="240.90" x2="283.80" y2="240.90" stroke="#ff8a00" stroke-width="1.1"/>
<rect x="295.50" y="236.00" width="15.00" height="18.00" fill="#80a3c6"/>
<path d="M295.90,254.00V236.40H310.10V254.00" fill="none" stroke="#7699c0" stroke-width="0.8"/>
<line x1="303.00" y1="229.40" x2="303.00" y2="243.10" stroke="#1b5795" stroke-width="1.1"/>
<line x1="299.50" y1="229.40" x2="306.50" y2="229.40" stroke="#1b5795" stroke-width="1.1"/>
<line x1="299.50" y1="243.10" x2="306.50" y2="243.10" stroke="#1b5795" stroke-width="1.1"/>
<rect x="318.20" y="236.40" width="15.00" height="17.60" fill="#e1889b"/>
<path d="M318.60,254.00V236.80H332.80V254.00" fill="none" stroke="#d97a8e" stroke-width="0.8"/>
<line x1="325.70" y1="231.60" x2="325.70" y2="242.00" stroke="#c8102e" stroke-width="1.1"/>
<line x1="322.20" y1="231.60" x2="329.20" y2="231.60" stroke="#c8102e" stroke-width="1.1"/>
<line x1="322.20" y1="242.00" x2="329.20" y2="242.00" stroke="#c8102e" stroke-width="1.1"/>
<circle cx="234.20" cy="216.50" r="2.05" fill="#521566"/>
<circle cx="234.20" cy="224.30" r="2.05" fill="#521566"/>
<circle cx="232.00" cy="235.30" r="2.05" fill="#521566"/>
<circle cx="236.40" cy="238.70" r="2.05" fill="#521566"/>
<circle cx="236.40" cy="249.70" r="2.05" fill="#521566"/>
<circle cx="232.00" cy="252.40" r="2.05" fill="#521566"/>
<rect x="255.28" y="194.64" width="3.23" height="2.72" fill="#1eaa42"/>
<rect x="255.28" y="218.54" width="3.23" height="2.72" fill="#1eaa42"/>
<rect x="253.08" y="225.84" width="3.23" height="2.72" fill="#1eaa42"/>
<rect x="257.58" y="226.64" width="3.23" height="2.72" fill="#1eaa42"/>
<rect x="253.08" y="238.44" width="3.23" height="2.72" fill="#1eaa42"/>
<rect x="256.88" y="238.44" width="3.23" height="2.72" fill="#1eaa42"/>
<path d="M279.90,227.00L281.69,230.06L278.11,230.06Z" fill="#ff8a00"/>
<path d="M277.70,233.60L279.49,236.66L275.91,236.66Z" fill="#ff8a00"/>
<path d="M282.20,233.60L283.99,236.66L280.41,236.66Z" fill="#ff8a00"/>
<path d="M276.80,241.40L278.59,244.46L275.01,244.46Z" fill="#ff8a00"/>
<path d="M281.70,240.90L283.49,243.96L279.91,243.96Z" fill="#ff8a00"/>
<path d="M279.90,238.70L281.69,241.76L278.11,241.76Z" fill="#ff8a00"/>
<path d="M302.70,222.52L304.49,224.30L302.70,226.09L300.91,224.30Z" fill="#1b5795"/>
<path d="M297.20,234.62L298.99,236.40L297.20,238.19L295.41,236.40Z" fill="#1b5795"/>
<path d="M308.20,235.12L309.99,236.90L308.20,238.69L306.41,236.90Z" fill="#1b5795"/>
<path d="M300.50,236.41L302.29,238.20L300.50,239.98L298.71,238.20Z" fill="#1b5795"/>
<path d="M304.90,236.41L306.69,238.20L304.90,239.98L303.11,238.20Z" fill="#1b5795"/>
<path d="M302.70,239.12L304.49,240.90L302.70,242.69L300.91,240.90Z" fill="#1b5795"/>
<path d="M325.50,231.50L327.29,228.44L323.71,228.44Z" fill="#c8102e"/>
<path d="M321.10,237.70L322.89,234.64L319.31,234.64Z" fill="#c8102e"/>
<path d="M330.40,237.70L332.19,234.64L328.61,234.64Z" fill="#c8102e"/>
<path d="M323.70,240.40L325.49,237.34L321.91,237.34Z" fill="#c8102e"/>
<path d="M327.70,239.90L329.49,236.84L325.91,236.84Z" fill="#c8102e"/>
<path d="M325.50,243.00L327.29,239.94L323.71,239.94Z" fill="#c8102e"/>
<line x1="388.00" y1="179.30" x2="388.00" y2="254.90" stroke="#151515" stroke-width="1.2"/>
<line x1="384.70" y1="183.50" x2="388.00" y2="183.50" stroke="#151515" stroke-width="1.1"/>
<text x="380.80" y="186.60" font-size="8.4" text-anchor="end" font-weight="normal" fill="#222" color="#222" textLength="11.99" lengthAdjust="spacingAndGlyphs" style="stroke-width:0.18px">100</text>
<line x1="384.70" y1="197.60" x2="388.00" y2="197.60" stroke="#151515" stroke-width="1.1"/>
<text x="380.80" y="200.70" font-size="8.4" text-anchor="end" font-weight="normal" fill="#222" color="#222" textLength="7.99" lengthAdjust="spacingAndGlyphs" style="stroke-width:0.18px">80</text>
<line x1="384.70" y1="211.70" x2="388.00" y2="211.70" stroke="#151515" stroke-width="1.1"/>
<text x="380.80" y="214.80" font-size="8.4" text-anchor="end" font-weight="normal" fill="#222" color="#222" textLength="7.99" lengthAdjust="spacingAndGlyphs" style="stroke-width:0.18px">60</text>
<line x1="384.70" y1="225.80" x2="388.00" y2="225.80" stroke="#151515" stroke-width="1.1"/>
<text x="380.80" y="228.90" font-size="8.4" text-anchor="end" font-weight="normal" fill="#222" color="#222" textLength="7.99" lengthAdjust="spacingAndGlyphs" style="stroke-width:0.18px">40</text>
<line x1="384.70" y1="239.90" x2="388.00" y2="239.90" stroke="#151515" stroke-width="1.1"/>
<text x="380.80" y="243.00" font-size="8.4" text-anchor="end" font-weight="normal" fill="#222" color="#222" textLength="7.99" lengthAdjust="spacingAndGlyphs" style="stroke-width:0.18px">20</text>
<line x1="384.70" y1="254.40" x2="388.00" y2="254.40" stroke="#151515" stroke-width="1.1"/>
<text x="380.80" y="257.10" font-size="8.4" text-anchor="end" font-weight="normal" fill="#222" color="#222" textLength="4.0" lengthAdjust="spacingAndGlyphs" style="stroke-width:0.18px">0</text>
<line x1="387.40" y1="254.40" x2="512.70" y2="254.40" stroke="#151515" stroke-width="1.2"/>
<line x1="403.00" y1="254.40" x2="403.00" y2="256.80" stroke="#151515" stroke-width="1"/>
<line x1="427.00" y1="254.40" x2="427.00" y2="256.80" stroke="#151515" stroke-width="1"/>
<line x1="450.50" y1="254.40" x2="450.50" y2="256.80" stroke="#151515" stroke-width="1"/>
<line x1="473.90" y1="254.40" x2="473.90" y2="256.80" stroke="#151515" stroke-width="1"/>
<line x1="497.40" y1="254.40" x2="497.40" y2="256.80" stroke="#151515" stroke-width="1"/>
<text transform="translate(355.10,218.60) rotate(-90)" font-size="10.3" text-anchor="middle" font-weight="normal" fill="#222" color="#222" textLength="69.3" lengthAdjust="spacingAndGlyphs" style="stroke-width:0.16px">% Donor myeloid cell</text>
<text transform="translate(365.40,218.40) rotate(-90)" font-size="9.0" text-anchor="middle" font-weight="normal" fill="#222" color="#222" textLength="66.0" lengthAdjust="spacingAndGlyphs" style="stroke-width:0.16px">chimerism (H2Kd+)</text>
<rect x="395.35" y="224.50" width="15.30" height="29.50" fill="#a98bb8"/>
<path d="M395.75,254.00V224.90H410.25V254.00" fill="none" stroke="#9e7db0" stroke-width="0.8"/>
<line x1="403.00" y1="212.80" x2="403.00" y2="237.70" stroke="#521566" stroke-width="1.1"/>
<line x1="399.50" y1="212.80" x2="406.50" y2="212.80" stroke="#521566" stroke-width="1.1"/>
<line x1="399.50" y1="237.70" x2="406.50" y2="237.70" stroke="#521566" stroke-width="1.1"/>
<rect x="419.35" y="224.50" width="15.30" height="29.50" fill="#9fdaa8"/>
<path d="M419.75,254.00V224.90H434.25V254.00" fill="none" stroke="#8bd297" stroke-width="0.8"/>
<line x1="427.00" y1="211.20" x2="427.00" y2="236.50" stroke="#1eaa42" stroke-width="1.1"/>
<line x1="423.50" y1="211.20" x2="430.50" y2="211.20" stroke="#1eaa42" stroke-width="1.1"/>
<line x1="423.50" y1="236.50" x2="430.50" y2="236.50" stroke="#1eaa42" stroke-width="1.1"/>
<rect x="442.85" y="205.40" width="15.30" height="48.60" fill="#ffc37f"/>
<path d="M443.25,254.00V205.80H457.75V254.00" fill="none" stroke="#ffb664" stroke-width="0.8"/>
<line x1="450.50" y1="200.10" x2="450.50" y2="210.70" stroke="#ff8a00" stroke-width="1.1"/>
<line x1="447.00" y1="200.10" x2="454.00" y2="200.10" stroke="#ff8a00" stroke-width="1.1"/>
<line x1="447.00" y1="210.70" x2="454.00" y2="210.70" stroke="#ff8a00" stroke-width="1.1"/>
<rect x="466.25" y="207.70" width="15.30" height="46.30" fill="#80a3c6"/>
<path d="M466.65,254.00V208.10H481.15V254.00" fill="none" stroke="#7699c0" stroke-width="0.8"/>
<line x1="473.90" y1="200.80" x2="473.90" y2="213.50" stroke="#1b5795" stroke-width="1.1"/>
<line x1="470.40" y1="200.80" x2="477.40" y2="200.80" stroke="#1b5795" stroke-width="1.1"/>
<line x1="470.40" y1="213.50" x2="477.40" y2="213.50" stroke="#1b5795" stroke-width="1.1"/>
<rect x="489.75" y="207.00" width="15.30" height="47.00" fill="#e1889b"/>
<path d="M490.15,254.00V207.40H504.65V254.00" fill="none" stroke="#d97a8e" stroke-width="0.8"/>
<line x1="497.40" y1="203.10" x2="497.40" y2="211.60" stroke="#c8102e" stroke-width="1.1"/>
<line x1="493.90" y1="203.10" x2="500.90" y2="203.10" stroke="#c8102e" stroke-width="1.1"/>
<line x1="493.90" y1="211.60" x2="500.90" y2="211.60" stroke="#c8102e" stroke-width="1.1"/>
<circle cx="403.10" cy="207.70" r="2.00" fill="#521566"/>
<circle cx="403.10" cy="224.50" r="2.00" fill="#521566"/>
<circle cx="401.20" cy="230.10" r="2.00" fill="#521566"/>
<circle cx="405.80" cy="231.90" r="2.00" fill="#521566"/>
<circle cx="403.10" cy="236.10" r="2.00" fill="#521566"/>
<circle cx="400.50" cy="229.00" r="2.00" fill="#521566"/>
<rect x="424.99" y="209.84" width="3.23" height="2.72" fill="#1eaa42"/>
<rect x="422.69" y="216.24" width="3.23" height="2.72" fill="#1eaa42"/>
<rect x="427.28" y="216.74" width="3.23" height="2.72" fill="#1eaa42"/>
<rect x="424.99" y="222.44" width="3.23" height="2.72" fill="#1eaa42"/>
<rect x="424.99" y="228.24" width="3.23" height="2.72" fill="#1eaa42"/>
<rect x="424.99" y="243.94" width="3.23" height="2.72" fill="#1eaa42"/>
<path d="M445.10,199.10L446.89,202.16L443.31,202.16Z" fill="#ff8a00"/>
<path d="M453.80,199.10L455.59,202.16L452.01,202.16Z" fill="#ff8a00"/>
<path d="M449.70,200.20L451.49,203.26L447.91,203.26Z" fill="#ff8a00"/>
<path d="M447.40,210.60L449.19,213.66L445.61,213.66Z" fill="#ff8a00"/>
<path d="M452.50,208.30L454.29,211.36L450.71,211.36Z" fill="#ff8a00"/>
<path d="M450.50,204.30L452.29,207.36L448.71,207.36Z" fill="#ff8a00"/>
<path d="M468.20,198.31L469.99,200.10L468.20,201.88L466.41,200.10Z" fill="#1b5795"/>
<path d="M479.20,199.72L480.99,201.50L479.20,203.28L477.41,201.50Z" fill="#1b5795"/>
<path d="M471.60,207.02L473.39,208.80L471.60,210.59L469.81,208.80Z" fill="#1b5795"/>
<path d="M475.10,207.02L476.89,208.80L475.10,210.59L473.31,208.80Z" fill="#1b5795"/>
<path d="M471.60,215.62L473.39,217.40L471.60,219.19L469.81,217.40Z" fill="#1b5795"/>
<path d="M475.10,211.22L476.89,213.00L475.10,214.78L473.31,213.00Z" fill="#1b5795"/>
<path d="M497.00,201.80L498.79,198.74L495.21,198.74Z" fill="#c8102e"/>
<path d="M491.70,206.40L493.49,203.34L489.91,203.34Z" fill="#c8102e"/>
<path d="M502.30,206.40L504.09,203.34L500.51,203.34Z" fill="#c8102e"/>
<path d="M494.70,211.00L496.49,207.94L492.91,207.94Z" fill="#c8102e"/>
<path d="M499.30,211.00L501.09,207.94L497.51,207.94Z" fill="#c8102e"/>
<path d="M497.00,213.30L498.79,210.24L495.21,210.24Z" fill="#c8102e"/>
<line x1="428.70" y1="194.20" x2="449.70" y2="194.20" stroke="#333" stroke-width="1.2"/>
<line x1="429.20" y1="192.90" x2="429.20" y2="195.50" stroke="#333" stroke-width="1"/>
<line x1="449.20" y1="192.90" x2="449.20" y2="195.50" stroke="#333" stroke-width="1"/>
<path d="M437.43,191.00L437.43,189.85M437.43,191.00L436.33,190.64M437.43,191.00L436.75,191.93M437.43,191.00L438.10,191.93M437.43,191.00L438.52,190.64" stroke="#2a2a2a" stroke-width="1.1" stroke-linecap="round" fill="none"/>
<path d="M440.98,191.00L440.98,189.85M440.98,191.00L439.88,190.64M440.98,191.00L440.30,191.93M440.98,191.00L441.65,191.93M440.98,191.00L442.07,190.64" stroke="#2a2a2a" stroke-width="1.1" stroke-linecap="round" fill="none"/>
<line x1="428.70" y1="183.80" x2="473.00" y2="183.80" stroke="#333" stroke-width="1.2"/>
<line x1="429.20" y1="182.50" x2="429.20" y2="185.10" stroke="#333" stroke-width="1"/>
<line x1="472.50" y1="182.50" x2="472.50" y2="185.10" stroke="#333" stroke-width="1"/>
<path d="M449.08,180.60L449.08,179.45M449.08,180.60L447.98,180.24M449.08,180.60L448.40,181.53M449.08,180.60L449.75,181.53M449.08,180.60L450.17,180.24" stroke="#2a2a2a" stroke-width="1.1" stroke-linecap="round" fill="none"/>
<path d="M452.63,180.60L452.63,179.45M452.63,180.60L451.53,180.24M452.63,180.60L451.95,181.53M452.63,180.60L453.30,181.53M452.63,180.60L453.72,180.24" stroke="#2a2a2a" stroke-width="1.1" stroke-linecap="round" fill="none"/>
<line x1="428.70" y1="173.00" x2="496.80" y2="173.00" stroke="#333" stroke-width="1.2"/>
<line x1="429.20" y1="171.70" x2="429.20" y2="174.30" stroke="#333" stroke-width="1"/>
<line x1="496.30" y1="171.70" x2="496.30" y2="174.30" stroke="#333" stroke-width="1"/>
<path d="M459.83,169.80L459.83,168.65M459.83,169.80L458.73,169.44M459.83,169.80L459.15,170.73M459.83,169.80L460.50,170.73M459.83,169.80L460.92,169.44" stroke="#2a2a2a" stroke-width="1.1" stroke-linecap="round" fill="none"/>
<path d="M463.38,169.80L463.38,168.65M463.38,169.80L462.28,169.44M463.38,169.80L462.70,170.73M463.38,169.80L464.05,170.73M463.38,169.80L464.47,169.44" stroke="#2a2a2a" stroke-width="1.1" stroke-linecap="round" fill="none"/>
<ellipse cx="108.60" cy="272.40" rx="2.00" ry="2.00" fill="#521566"/>
<text x="114.00" y="275.30" font-size="7.9" text-anchor="start" font-weight="normal" fill="#222" color="#222" textLength="103.1" lengthAdjust="spacingAndGlyphs" style="stroke-width:0.12px">50× (Isotype-ADC+anti-CD40L)</text>
<path d="M108.60,280.65L110.10,283.05L107.10,283.05Z" fill="#ff8a00"/>
<text x="114.00" y="284.75" font-size="7.9" text-anchor="start" font-weight="normal" fill="#222" color="#222" textLength="137.3" lengthAdjust="spacingAndGlyphs" style="stroke-width:0.12px">50× (CD45-ADC+anti-CD40L+Ruxolitinib)</text>
<path d="M108.60,292.50L110.10,290.10L107.10,290.10Z" fill="#c8102e"/>
<text x="114.00" y="294.20" font-size="7.9" text-anchor="start" font-weight="normal" fill="#222" color="#222" textLength="134.8" lengthAdjust="spacingAndGlyphs" style="stroke-width:0.12px">50× (CD45-ADC+anti-CD40L+Baricitinib)</text>
<rect x="257.90" y="271.20" width="3.40" height="2.40" fill="#1eaa42"/>
<text x="264.00" y="275.30" font-size="7.9" text-anchor="start" font-weight="normal" fill="#222" color="#222" textLength="97.8" lengthAdjust="spacingAndGlyphs" style="stroke-width:0.12px">50× (CD45-ADC+anti-CD40L)</text>
<path d="M259.60,280.35L261.25,281.85L259.60,283.35L257.95,281.85Z" fill="#1b5795"/>
<text x="264.00" y="284.75" font-size="7.9" text-anchor="start" font-weight="normal" fill="#222" color="#222" textLength="136.7" lengthAdjust="spacingAndGlyphs" style="stroke-width:0.12px">50× (CD45-ADC+anti-CD40L+Tofacitinib)</text>
<text x="10.65" y="317.50" font-size="11.3" text-anchor="middle" font-weight="bold" fill="#000" color="#000" textLength="8.63" lengthAdjust="spacingAndGlyphs" style="stroke-width:0px">C</text>
<line x1="47.20" y1="337.60" x2="47.20" y2="411.90" stroke="#151515" stroke-width="1.2"/>
<line x1="43.90" y1="341.61" x2="47.20" y2="341.61" stroke="#151515" stroke-width="1.1"/>
<text x="40.80" y="344.71" font-size="8.4" text-anchor="end" font-weight="normal" fill="#222" color="#222" textLength="11.99" lengthAdjust="spacingAndGlyphs" style="stroke-width:0.18px">110</text>
<line x1="43.90" y1="353.19" x2="47.20" y2="353.19" stroke="#151515" stroke-width="1.1"/>
<text x="40.80" y="356.29" font-size="8.4" text-anchor="end" font-weight="normal" fill="#222" color="#222" textLength="7.99" lengthAdjust="spacingAndGlyphs" style="stroke-width:0.18px">90</text>
<line x1="43.90" y1="364.77" x2="47.20" y2="364.77" stroke="#151515" stroke-width="1.1"/>
<text x="40.80" y="367.87" font-size="8.4" text-anchor="end" font-weight="normal" fill="#222" color="#222" textLength="7.99" lengthAdjust="spacingAndGlyphs" style="stroke-width:0.18px">70</text>
<line x1="43.90" y1="376.35" x2="47.20" y2="376.35" stroke="#151515" stroke-width="1.1"/>
<text x="40.80" y="379.45" font-size="8.4" text-anchor="end" font-weight="normal" fill="#222" color="#222" textLength="7.99" lengthAdjust="spacingAndGlyphs" style="stroke-width:0.18px">50</text>
<line x1="43.90" y1="387.93" x2="47.20" y2="387.93" stroke="#151515" stroke-width="1.1"/>
<text x="40.80" y="391.03" font-size="8.4" text-anchor="end" font-weight="normal" fill="#222" color="#222" textLength="7.99" lengthAdjust="spacingAndGlyphs" style="stroke-width:0.18px">30</text>
<line x1="43.90" y1="399.51" x2="47.20" y2="399.51" stroke="#151515" stroke-width="1.1"/>
<text x="40.80" y="402.61" font-size="8.4" text-anchor="end" font-weight="normal" fill="#222" color="#222" textLength="7.99" lengthAdjust="spacingAndGlyphs" style="stroke-width:0.18px">10</text>
<line x1="43.90" y1="411.40" x2="47.20" y2="411.40" stroke="#151515" stroke-width="1.1"/>
<text x="40.80" y="414.19" font-size="8.4" text-anchor="end" font-weight="normal" fill="#222" color="#222" textLength="12.19" lengthAdjust="spacingAndGlyphs" style="stroke-width:0.18px">−10</text>
<line x1="46.60" y1="411.40" x2="170.30" y2="411.40" stroke="#151515" stroke-width="1.2"/>
<line x1="62.40" y1="411.40" x2="62.40" y2="414.00" stroke="#151515" stroke-width="1"/>
<line x1="85.50" y1="411.40" x2="85.50" y2="414.00" stroke="#151515" stroke-width="1"/>
<line x1="108.60" y1="411.40" x2="108.60" y2="414.00" stroke="#151515" stroke-width="1"/>
<line x1="131.60" y1="411.40" x2="131.60" y2="414.00" stroke="#151515" stroke-width="1"/>
<line x1="154.60" y1="411.40" x2="154.60" y2="414.00" stroke="#151515" stroke-width="1"/>
<line x1="47.20" y1="405.50" x2="170.30" y2="405.50" stroke="#151515" stroke-width="1.1"/>
<text transform="translate(14.90,376.50) rotate(-90)" font-size="10.3" text-anchor="middle" font-weight="normal" fill="#222" color="#222" textLength="64.0" lengthAdjust="spacingAndGlyphs" style="stroke-width:0.16px">% Donor chimerism</text>
<text transform="translate(25.30,376.00) rotate(-90)" font-size="8.8" text-anchor="middle" font-weight="normal" fill="#222" color="#222" textLength="30.0" lengthAdjust="spacingAndGlyphs" style="stroke-width:0.16px">(H2Kd+)</text>
<rect x="78.10" y="381.00" width="15.00" height="24.30" fill="#9fdaa8"/>
<path d="M78.50,405.30V381.40H92.70V405.30" fill="none" stroke="#8bd297" stroke-width="0.8"/>
<line x1="85.60" y1="362.20" x2="85.60" y2="400.50" stroke="#1eaa42" stroke-width="1.1"/>
<line x1="82.10" y1="362.20" x2="89.10" y2="362.20" stroke="#1eaa42" stroke-width="1.1"/>
<line x1="82.10" y1="400.50" x2="89.10" y2="400.50" stroke="#1eaa42" stroke-width="1.1"/>
<rect x="101.20" y="354.30" width="15.00" height="51.00" fill="#ffc37f"/>
<path d="M101.60,405.30V354.70H115.80V405.30" fill="none" stroke="#ffb664" stroke-width="0.8"/>
<line x1="108.70" y1="345.30" x2="108.70" y2="363.00" stroke="#ff8a00" stroke-width="1.1"/>
<line x1="105.20" y1="345.30" x2="112.20" y2="345.30" stroke="#ff8a00" stroke-width="1.1"/>
<line x1="105.20" y1="363.00" x2="112.20" y2="363.00" stroke="#ff8a00" stroke-width="1.1"/>
<rect x="124.30" y="356.80" width="15.00" height="48.50" fill="#80a3c6"/>
<path d="M124.70,405.30V357.20H138.90V405.30" fill="none" stroke="#7699c0" stroke-width="0.8"/>
<line x1="131.80" y1="349.60" x2="131.80" y2="364.20" stroke="#1b5795" stroke-width="1.1"/>
<line x1="128.30" y1="349.60" x2="135.30" y2="349.60" stroke="#1b5795" stroke-width="1.1"/>
<line x1="128.30" y1="364.20" x2="135.30" y2="364.20" stroke="#1b5795" stroke-width="1.1"/>
<rect x="147.40" y="359.70" width="15.00" height="45.60" fill="#e1889b"/>
<path d="M147.80,405.30V360.10H162.00V405.30" fill="none" stroke="#d97a8e" stroke-width="0.8"/>
<line x1="154.90" y1="348.00" x2="154.90" y2="370.50" stroke="#c8102e" stroke-width="1.1"/>
<line x1="151.40" y1="348.00" x2="158.40" y2="348.00" stroke="#c8102e" stroke-width="1.1"/>
<line x1="151.40" y1="370.50" x2="158.40" y2="370.50" stroke="#c8102e" stroke-width="1.1"/>
<circle cx="57.80" cy="405.30" r="2.00" fill="#521566"/>
<circle cx="59.80" cy="405.30" r="2.00" fill="#521566"/>
<circle cx="61.70" cy="405.30" r="2.00" fill="#521566"/>
<circle cx="63.70" cy="405.30" r="2.00" fill="#521566"/>
<circle cx="65.60" cy="405.30" r="2.00" fill="#521566"/>
<circle cx="67.60" cy="405.30" r="2.00" fill="#521566"/>
<rect x="83.69" y="356.64" width="3.23" height="2.72" fill="#1eaa42"/>
<rect x="83.69" y="361.74" width="3.23" height="2.72" fill="#1eaa42"/>
<rect x="80.69" y="387.54" width="3.23" height="2.72" fill="#1eaa42"/>
<rect x="86.48" y="390.54" width="3.23" height="2.72" fill="#1eaa42"/>
<rect x="83.69" y="398.64" width="3.23" height="2.72" fill="#1eaa42"/>
<path d="M102.80,347.50L104.69,350.74L100.91,350.74Z" fill="#ff8a00"/>
<path d="M106.50,349.50L108.39,352.74L104.61,352.74Z" fill="#ff8a00"/>
<path d="M110.40,349.50L112.29,352.74L108.51,352.74Z" fill="#ff8a00"/>
<path d="M114.60,348.60L116.49,351.84L112.71,351.84Z" fill="#ff8a00"/>
<path d="M108.40,368.20L110.29,371.44L106.51,371.44Z" fill="#ff8a00"/>
<path d="M126.20,348.61L127.98,350.40L126.20,352.19L124.42,350.40Z" fill="#1b5795"/>
<path d="M136.50,350.91L138.28,352.70L136.50,354.49L134.72,352.70Z" fill="#1b5795"/>
<path d="M131.20,356.71L132.98,358.50L131.20,360.29L129.41,358.50Z" fill="#1b5795"/>
<path d="M131.20,367.01L132.98,368.80L131.20,370.59L129.41,368.80Z" fill="#1b5795"/>
<path d="M149.20,354.40L150.98,351.34L147.41,351.34Z" fill="#c8102e"/>
<path d="M152.70,357.40L154.48,354.34L150.91,354.34Z" fill="#c8102e"/>
<path d="M156.60,357.40L158.38,354.34L154.81,354.34Z" fill="#c8102e"/>
<path d="M160.30,354.90L162.09,351.84L158.52,351.84Z" fill="#c8102e"/>
<path d="M155.00,381.40L156.78,378.34L153.22,378.34Z" fill="#c8102e"/>
<line x1="63.60" y1="350.80" x2="84.60" y2="350.80" stroke="#333" stroke-width="1.2"/>
<line x1="64.10" y1="349.50" x2="64.10" y2="352.10" stroke="#333" stroke-width="1"/>
<line x1="84.10" y1="349.50" x2="84.10" y2="352.10" stroke="#333" stroke-width="1"/>
<path d="M74.10,347.60L74.10,346.45M74.10,347.60L73.01,347.24M74.10,347.60L73.42,348.53M74.10,347.60L74.78,348.53M74.10,347.60L75.19,347.24" stroke="#2a2a2a" stroke-width="1.1" stroke-linecap="round" fill="none"/>
<line x1="86.50" y1="340.00" x2="107.30" y2="340.00" stroke="#333" stroke-width="1.2"/>
<line x1="87.00" y1="338.70" x2="87.00" y2="341.30" stroke="#333" stroke-width="1"/>
<line x1="106.80" y1="338.70" x2="106.80" y2="341.30" stroke="#333" stroke-width="1"/>
<path d="M96.90,336.80L96.90,335.65M96.90,336.80L95.81,336.44M96.90,336.80L96.22,337.73M96.90,336.80L97.58,337.73M96.90,336.80L97.99,336.44" stroke="#2a2a2a" stroke-width="1.1" stroke-linecap="round" fill="none"/>
<line x1="86.50" y1="329.50" x2="130.80" y2="329.50" stroke="#333" stroke-width="1.2"/>
<line x1="87.00" y1="328.20" x2="87.00" y2="330.80" stroke="#333" stroke-width="1"/>
<line x1="130.30" y1="328.20" x2="130.30" y2="330.80" stroke="#333" stroke-width="1"/>
<path d="M108.65,326.30L108.65,325.15M108.65,326.30L107.56,325.94M108.65,326.30L107.97,327.23M108.65,326.30L109.33,327.23M108.65,326.30L109.74,325.94" stroke="#2a2a2a" stroke-width="1.1" stroke-linecap="round" fill="none"/>
<line x1="86.50" y1="319.40" x2="154.60" y2="319.40" stroke="#333" stroke-width="1.2"/>
<line x1="87.00" y1="318.10" x2="87.00" y2="320.70" stroke="#333" stroke-width="1"/>
<line x1="154.10" y1="318.10" x2="154.10" y2="320.70" stroke="#333" stroke-width="1"/>
<text x="119.40" y="315.40" font-size="8.5" text-anchor="middle" font-weight="normal" fill="#333" color="#333" textLength="25.0" lengthAdjust="spacingAndGlyphs">P=0.06</text>
<text x="193.50" y="317.40" font-size="11.3" text-anchor="middle" font-weight="bold" fill="#000" color="#000" textLength="9.58" lengthAdjust="spacingAndGlyphs" style="stroke-width:0px">D</text>
<line x1="219.10" y1="341.80" x2="219.10" y2="411.90" stroke="#151515" stroke-width="1.2"/>
<line x1="215.80" y1="345.50" x2="219.10" y2="345.50" stroke="#151515" stroke-width="1.1"/>
<text x="212.30" y="348.60" font-size="8.4" text-anchor="end" font-weight="normal" fill="#222" color="#222" textLength="7.99" lengthAdjust="spacingAndGlyphs" style="stroke-width:0.18px">40</text>
<line x1="215.80" y1="361.90" x2="219.10" y2="361.90" stroke="#151515" stroke-width="1.1"/>
<text x="212.30" y="365.00" font-size="8.4" text-anchor="end" font-weight="normal" fill="#222" color="#222" textLength="7.99" lengthAdjust="spacingAndGlyphs" style="stroke-width:0.18px">30</text>
<line x1="215.80" y1="378.30" x2="219.10" y2="378.30" stroke="#151515" stroke-width="1.1"/>
<text x="212.30" y="381.40" font-size="8.4" text-anchor="end" font-weight="normal" fill="#222" color="#222" textLength="7.99" lengthAdjust="spacingAndGlyphs" style="stroke-width:0.18px">20</text>
<line x1="215.80" y1="394.70" x2="219.10" y2="394.70" stroke="#151515" stroke-width="1.1"/>
<text x="212.30" y="397.80" font-size="8.4" text-anchor="end" font-weight="normal" fill="#222" color="#222" textLength="7.99" lengthAdjust="spacingAndGlyphs" style="stroke-width:0.18px">10</text>
<line x1="215.80" y1="411.40" x2="219.10" y2="411.40" stroke="#151515" stroke-width="1.1"/>
<text x="212.30" y="414.20" font-size="8.4" text-anchor="end" font-weight="normal" fill="#222" color="#222" textLength="4.0" lengthAdjust="spacingAndGlyphs" style="stroke-width:0.18px">0</text>
<line x1="218.50" y1="411.40" x2="344.20" y2="411.40" stroke="#151515" stroke-width="1.2"/>
<line x1="234.60" y1="411.40" x2="234.60" y2="413.80" stroke="#151515" stroke-width="1"/>
<line x1="258.00" y1="411.40" x2="258.00" y2="413.80" stroke="#151515" stroke-width="1"/>
<line x1="281.70" y1="411.40" x2="281.70" y2="413.80" stroke="#151515" stroke-width="1"/>
<line x1="305.20" y1="411.40" x2="305.20" y2="413.80" stroke="#151515" stroke-width="1"/>
<line x1="328.60" y1="411.40" x2="328.60" y2="413.80" stroke="#151515" stroke-width="1"/>
<text transform="translate(197.30,378.10) rotate(-90)" font-size="9.5" text-anchor="middle" font-weight="normal" fill="#222" color="#222" textLength="62.0" lengthAdjust="spacingAndGlyphs" style="stroke-width:0.16px">% ST-HSC (H2Kd+)</text>
<rect x="250.55" y="386.80" width="15.30" height="24.30" fill="#9fdaa8"/>
<path d="M250.95,411.10V387.20H265.45V411.10" fill="none" stroke="#8bd297" stroke-width="0.8"/>
<line x1="258.20" y1="375.00" x2="258.20" y2="398.50" stroke="#1eaa42" stroke-width="1.1"/>
<line x1="254.70" y1="375.00" x2="261.70" y2="375.00" stroke="#1eaa42" stroke-width="1.1"/>
<line x1="254.70" y1="398.50" x2="261.70" y2="398.50" stroke="#1eaa42" stroke-width="1.1"/>
<rect x="274.05" y="384.60" width="15.30" height="26.50" fill="#ffc37f"/>
<path d="M274.45,411.10V385.00H288.95V411.10" fill="none" stroke="#ffb664" stroke-width="0.8"/>
<line x1="281.70" y1="376.20" x2="281.70" y2="392.50" stroke="#ff8a00" stroke-width="1.1"/>
<line x1="278.20" y1="376.20" x2="285.20" y2="376.20" stroke="#ff8a00" stroke-width="1.1"/>
<line x1="278.20" y1="392.50" x2="285.20" y2="392.50" stroke="#ff8a00" stroke-width="1.1"/>
<rect x="297.55" y="381.70" width="15.30" height="29.40" fill="#80a3c6"/>
<path d="M297.95,411.10V382.10H312.45V411.10" fill="none" stroke="#7699c0" stroke-width="0.8"/>
<line x1="305.20" y1="373.80" x2="305.20" y2="389.60" stroke="#1b5795" stroke-width="1.1"/>
<line x1="301.70" y1="373.80" x2="308.70" y2="373.80" stroke="#1b5795" stroke-width="1.1"/>
<line x1="301.70" y1="389.60" x2="308.70" y2="389.60" stroke="#1b5795" stroke-width="1.1"/>
<rect x="321.25" y="372.00" width="15.30" height="39.10" fill="#e1889b"/>
<path d="M321.65,411.10V372.40H336.15V411.10" fill="none" stroke="#d97a8e" stroke-width="0.8"/>
<line x1="328.90" y1="357.50" x2="328.90" y2="386.30" stroke="#c8102e" stroke-width="1.1"/>
<line x1="325.40" y1="357.50" x2="332.40" y2="357.50" stroke="#c8102e" stroke-width="1.1"/>
<line x1="325.40" y1="386.30" x2="332.40" y2="386.30" stroke="#c8102e" stroke-width="1.1"/>
<circle cx="229.60" cy="411.00" r="2.00" fill="#521566"/>
<circle cx="231.60" cy="411.00" r="2.00" fill="#521566"/>
<circle cx="233.60" cy="411.00" r="2.00" fill="#521566"/>
<circle cx="235.50" cy="411.00" r="2.00" fill="#521566"/>
<circle cx="237.50" cy="411.00" r="2.00" fill="#521566"/>
<circle cx="239.50" cy="411.00" r="2.00" fill="#521566"/>
<rect x="256.58" y="370.22" width="3.04" height="2.56" fill="#1eaa42"/>
<rect x="259.08" y="380.22" width="3.04" height="2.56" fill="#1eaa42"/>
<rect x="256.58" y="391.02" width="3.04" height="2.56" fill="#1eaa42"/>
<rect x="256.58" y="402.02" width="3.04" height="2.56" fill="#1eaa42"/>
<path d="M281.70,373.10L283.49,376.16L279.91,376.16Z" fill="#ff8a00"/>
<path d="M278.80,381.40L280.59,384.46L277.01,384.46Z" fill="#ff8a00"/>
<path d="M284.20,378.90L285.99,381.96L282.41,381.96Z" fill="#ff8a00"/>
<path d="M281.70,387.90L283.49,390.96L279.91,390.96Z" fill="#ff8a00"/>
<path d="M281.70,394.30L283.49,397.36L279.91,397.36Z" fill="#ff8a00"/>
<path d="M305.20,367.61L306.99,369.40L305.20,371.19L303.41,369.40Z" fill="#1b5795"/>
<path d="M302.90,382.21L304.69,384.00L302.90,385.79L301.11,384.00Z" fill="#1b5795"/>
<path d="M307.70,383.61L309.49,385.40L307.70,387.19L305.91,385.40Z" fill="#1b5795"/>
<path d="M305.20,387.41L306.99,389.20L305.20,390.99L303.41,389.20Z" fill="#1b5795"/>
<path d="M305.20,380.11L306.99,381.90L305.20,383.69L303.41,381.90Z" fill="#1b5795"/>
<path d="M328.50,355.70L330.29,352.64L326.71,352.64Z" fill="#c8102e"/>
<path d="M328.50,371.10L330.29,368.04L326.71,368.04Z" fill="#c8102e"/>
<path d="M328.50,382.30L330.29,379.24L326.71,379.24Z" fill="#c8102e"/>
<path d="M328.50,392.50L330.29,389.44L326.71,389.44Z" fill="#c8102e"/>
<line x1="234.00" y1="364.50" x2="256.40" y2="364.50" stroke="#333" stroke-width="1.2"/>
<line x1="234.50" y1="363.20" x2="234.50" y2="365.80" stroke="#333" stroke-width="1"/>
<line x1="255.90" y1="363.20" x2="255.90" y2="365.80" stroke="#333" stroke-width="1"/>
<path d="M243.42,361.30L243.42,360.15M243.42,361.30L242.33,360.94M243.42,361.30L242.75,362.23M243.42,361.30L244.10,362.23M243.42,361.30L244.52,360.94" stroke="#2a2a2a" stroke-width="1.1" stroke-linecap="round" fill="none"/>
<path d="M246.97,361.30L246.97,360.15M246.97,361.30L245.88,360.94M246.97,361.30L246.30,362.23M246.97,361.30L247.65,362.23M246.97,361.30L248.07,360.94" stroke="#2a2a2a" stroke-width="1.1" stroke-linecap="round" fill="none"/>
<line x1="387.70" y1="342.10" x2="387.70" y2="411.90" stroke="#151515" stroke-width="1.2"/>
<line x1="384.40" y1="345.90" x2="387.70" y2="345.90" stroke="#151515" stroke-width="1.1"/>
<text x="380.80" y="349.00" font-size="8.4" text-anchor="end" font-weight="normal" fill="#222" color="#222" textLength="7.99" lengthAdjust="spacingAndGlyphs" style="stroke-width:0.18px">20</text>
<line x1="384.40" y1="362.20" x2="387.70" y2="362.20" stroke="#151515" stroke-width="1.1"/>
<text x="380.80" y="365.30" font-size="8.4" text-anchor="end" font-weight="normal" fill="#222" color="#222" textLength="7.99" lengthAdjust="spacingAndGlyphs" style="stroke-width:0.18px">15</text>
<line x1="384.40" y1="378.50" x2="387.70" y2="378.50" stroke="#151515" stroke-width="1.1"/>
<text x="380.80" y="381.60" font-size="8.4" text-anchor="end" font-weight="normal" fill="#222" color="#222" textLength="7.99" lengthAdjust="spacingAndGlyphs" style="stroke-width:0.18px">10</text>
<line x1="384.40" y1="394.80" x2="387.70" y2="394.80" stroke="#151515" stroke-width="1.1"/>
<text x="380.80" y="397.90" font-size="8.4" text-anchor="end" font-weight="normal" fill="#222" color="#222" textLength="4.0" lengthAdjust="spacingAndGlyphs" style="stroke-width:0.18px">5</text>
<line x1="384.40" y1="411.40" x2="387.70" y2="411.40" stroke="#151515" stroke-width="1.1"/>
<text x="380.80" y="414.20" font-size="8.4" text-anchor="end" font-weight="normal" fill="#222" color="#222" textLength="4.0" lengthAdjust="spacingAndGlyphs" style="stroke-width:0.18px">0</text>
<line x1="387.10" y1="411.40" x2="513.30" y2="411.40" stroke="#151515" stroke-width="1.2"/>
<line x1="403.60" y1="411.40" x2="403.60" y2="413.80" stroke="#151515" stroke-width="1"/>
<line x1="427.00" y1="411.40" x2="427.00" y2="413.80" stroke="#151515" stroke-width="1"/>
<line x1="450.30" y1="411.40" x2="450.30" y2="413.80" stroke="#151515" stroke-width="1"/>
<line x1="473.80" y1="411.40" x2="473.80" y2="413.80" stroke="#151515" stroke-width="1"/>
<line x1="497.30" y1="411.40" x2="497.30" y2="413.80" stroke="#151515" stroke-width="1"/>
<text transform="translate(366.50,378.60) rotate(-90)" font-size="9.5" text-anchor="middle" font-weight="normal" fill="#222" color="#222" textLength="61.3" lengthAdjust="spacingAndGlyphs" style="stroke-width:0.16px">% LT-HSC (H2Kd+)</text>
<rect x="419.25" y="392.00" width="15.30" height="19.10" fill="#9fdaa8"/>
<path d="M419.65,411.10V392.40H434.15V411.10" fill="none" stroke="#8bd297" stroke-width="0.8"/>
<line x1="426.90" y1="378.10" x2="426.90" y2="406.20" stroke="#1eaa42" stroke-width="1.1"/>
<line x1="423.40" y1="378.10" x2="430.40" y2="378.10" stroke="#1eaa42" stroke-width="1.1"/>
<line x1="423.40" y1="406.20" x2="430.40" y2="406.20" stroke="#1eaa42" stroke-width="1.1"/>
<rect x="442.65" y="387.70" width="15.30" height="23.40" fill="#ffc37f"/>
<path d="M443.05,411.10V388.10H457.55V411.10" fill="none" stroke="#ffb664" stroke-width="0.8"/>
<line x1="450.30" y1="376.50" x2="450.30" y2="398.30" stroke="#ff8a00" stroke-width="1.1"/>
<line x1="446.80" y1="376.50" x2="453.80" y2="376.50" stroke="#ff8a00" stroke-width="1.1"/>
<line x1="446.80" y1="398.30" x2="453.80" y2="398.30" stroke="#ff8a00" stroke-width="1.1"/>
<rect x="466.15" y="387.70" width="15.30" height="23.40" fill="#80a3c6"/>
<path d="M466.55,411.10V388.10H481.05V411.10" fill="none" stroke="#7699c0" stroke-width="0.8"/>
<line x1="473.80" y1="380.60" x2="473.80" y2="394.00" stroke="#1b5795" stroke-width="1.1"/>
<line x1="470.30" y1="380.60" x2="477.30" y2="380.60" stroke="#1b5795" stroke-width="1.1"/>
<line x1="470.30" y1="394.00" x2="477.30" y2="394.00" stroke="#1b5795" stroke-width="1.1"/>
<rect x="489.65" y="372.30" width="15.30" height="38.80" fill="#e1889b"/>
<path d="M490.05,411.10V372.70H504.55V411.10" fill="none" stroke="#d97a8e" stroke-width="0.8"/>
<line x1="497.30" y1="360.20" x2="497.30" y2="384.40" stroke="#c8102e" stroke-width="1.1"/>
<line x1="493.80" y1="360.20" x2="500.80" y2="360.20" stroke="#c8102e" stroke-width="1.1"/>
<line x1="493.80" y1="384.40" x2="500.80" y2="384.40" stroke="#c8102e" stroke-width="1.1"/>
<circle cx="398.70" cy="411.00" r="2.00" fill="#521566"/>
<circle cx="400.70" cy="411.00" r="2.00" fill="#521566"/>
<circle cx="402.70" cy="411.00" r="2.00" fill="#521566"/>
<circle cx="404.60" cy="411.00" r="2.00" fill="#521566"/>
<circle cx="406.60" cy="411.00" r="2.00" fill="#521566"/>
<circle cx="408.60" cy="411.00" r="2.00" fill="#521566"/>
<rect x="425.19" y="374.54" width="3.23" height="2.72" fill="#1eaa42"/>
<rect x="425.19" y="380.54" width="3.23" height="2.72" fill="#1eaa42"/>
<rect x="425.19" y="390.04" width="3.23" height="2.72" fill="#1eaa42"/>
<rect x="425.19" y="401.64" width="3.23" height="2.72" fill="#1eaa42"/>
<rect x="425.19" y="407.34" width="3.23" height="2.72" fill="#1eaa42"/>
<path d="M447.90,374.80L449.69,377.86L446.11,377.86Z" fill="#ff8a00"/>
<path d="M452.70,374.80L454.49,377.86L450.91,377.86Z" fill="#ff8a00"/>
<path d="M450.20,385.60L451.99,388.66L448.41,388.66Z" fill="#ff8a00"/>
<path d="M450.20,392.70L451.99,395.76L448.41,395.76Z" fill="#ff8a00"/>
<path d="M450.20,400.80L451.99,403.86L448.41,403.86Z" fill="#ff8a00"/>
<path d="M473.80,375.31L475.59,377.10L473.80,378.89L472.01,377.10Z" fill="#1b5795"/>
<path d="M473.80,382.41L475.59,384.20L473.80,385.99L472.01,384.20Z" fill="#1b5795"/>
<path d="M471.50,391.71L473.29,393.50L471.50,395.29L469.71,393.50Z" fill="#1b5795"/>
<path d="M476.20,390.71L477.99,392.50L476.20,394.29L474.41,392.50Z" fill="#1b5795"/>
<path d="M473.80,387.41L475.59,389.20L473.80,390.99L472.01,389.20Z" fill="#1b5795"/>
<path d="M497.30,357.70L499.09,354.64L495.51,354.64Z" fill="#c8102e"/>
<path d="M492.10,371.50L493.89,368.44L490.31,368.44Z" fill="#c8102e"/>
<path d="M502.30,371.50L504.09,368.44L500.51,368.44Z" fill="#c8102e"/>
<path d="M497.30,375.50L499.09,372.44L495.51,372.44Z" fill="#c8102e"/>
<path d="M497.30,391.70L499.09,388.64L495.51,388.64Z" fill="#c8102e"/>
<line x1="403.30" y1="369.00" x2="425.50" y2="369.00" stroke="#333" stroke-width="1.2"/>
<line x1="403.80" y1="367.70" x2="403.80" y2="370.30" stroke="#333" stroke-width="1"/>
<line x1="425.00" y1="367.70" x2="425.00" y2="370.30" stroke="#333" stroke-width="1"/>
<path d="M414.40,365.80L414.40,364.65M414.40,365.80L413.31,365.44M414.40,365.80L413.72,366.73M414.40,365.80L415.08,366.73M414.40,365.80L415.49,365.44" stroke="#2a2a2a" stroke-width="1.1" stroke-linecap="round" fill="none"/>
<line x1="427.30" y1="349.80" x2="495.60" y2="349.80" stroke="#333" stroke-width="1.2"/>
<line x1="427.80" y1="348.50" x2="427.80" y2="351.10" stroke="#333" stroke-width="1"/>
<line x1="495.10" y1="348.50" x2="495.10" y2="351.10" stroke="#333" stroke-width="1"/>
<path d="M460.20,346.60L460.20,345.45M460.20,346.60L459.11,346.24M460.20,346.60L459.52,347.53M460.20,346.60L460.88,347.53M460.20,346.60L461.29,346.24" stroke="#2a2a2a" stroke-width="1.1" stroke-linecap="round" fill="none"/>
<ellipse cx="118.90" cy="429.80" rx="2.00" ry="2.00" fill="#521566"/>
<text x="123.60" y="432.70" font-size="7.9" text-anchor="start" font-weight="normal" fill="#222" color="#222" textLength="103.1" lengthAdjust="spacingAndGlyphs" style="stroke-width:0.12px">50× (Isotype-ADC+anti-CD40L)</text>
<path d="M118.90,438.00L120.40,440.40L117.40,440.40Z" fill="#ff8a00"/>
<text x="123.60" y="442.10" font-size="7.9" text-anchor="start" font-weight="normal" fill="#222" color="#222" textLength="137.3" lengthAdjust="spacingAndGlyphs" style="stroke-width:0.12px">50× (CD45-ADC+anti-CD40L+Ruxolitinib)</text>
<path d="M118.90,449.80L120.40,447.40L117.40,447.40Z" fill="#c8102e"/>
<text x="123.60" y="451.50" font-size="7.9" text-anchor="start" font-weight="normal" fill="#222" color="#222" textLength="134.8" lengthAdjust="spacingAndGlyphs" style="stroke-width:0.12px">50× (CD45-ADC+anti-CD40L+Baricitinib)</text>
<rect x="268.70" y="428.40" width="3.40" height="2.40" fill="#1eaa42"/>
<text x="275.00" y="432.50" font-size="7.9" text-anchor="start" font-weight="normal" fill="#222" color="#222" textLength="97.8" lengthAdjust="spacingAndGlyphs" style="stroke-width:0.12px">50× (CD45-ADC+anti-CD40L)</text>
<path d="M270.40,437.55L272.05,439.05L270.40,440.55L268.75,439.05Z" fill="#1b5795"/>
<text x="275.00" y="441.95" font-size="7.9" text-anchor="start" font-weight="normal" fill="#222" color="#222" textLength="136.7" lengthAdjust="spacingAndGlyphs" style="stroke-width:0.12px">50× (CD45-ADC+anti-CD40L+Tofacitinib)</text>
<text x="10.95" y="472.40" font-size="11.3" text-anchor="middle" font-weight="bold" fill="#000" color="#000" textLength="7.88" lengthAdjust="spacingAndGlyphs" style="stroke-width:0px">E</text>
<line x1="49.80" y1="488.60" x2="49.80" y2="557.10" stroke="#151515" stroke-width="1.2"/>
<line x1="46.50" y1="489.19" x2="49.80" y2="489.19" stroke="#151515" stroke-width="1.1"/>
<text x="42.50" y="492.29" font-size="8.4" text-anchor="end" font-weight="normal" fill="#222" color="#222" textLength="11.99" lengthAdjust="spacingAndGlyphs" style="stroke-width:0.18px">110</text>
<line x1="46.50" y1="500.41" x2="49.80" y2="500.41" stroke="#151515" stroke-width="1.1"/>
<text x="42.50" y="503.51" font-size="8.4" text-anchor="end" font-weight="normal" fill="#222" color="#222" textLength="7.99" lengthAdjust="spacingAndGlyphs" style="stroke-width:0.18px">90</text>
<line x1="46.50" y1="511.63" x2="49.80" y2="511.63" stroke="#151515" stroke-width="1.1"/>
<text x="42.50" y="514.73" font-size="8.4" text-anchor="end" font-weight="normal" fill="#222" color="#222" textLength="7.99" lengthAdjust="spacingAndGlyphs" style="stroke-width:0.18px">70</text>
<line x1="46.50" y1="522.85" x2="49.80" y2="522.85" stroke="#151515" stroke-width="1.1"/>
<text x="42.50" y="525.95" font-size="8.4" text-anchor="end" font-weight="normal" fill="#222" color="#222" textLength="7.99" lengthAdjust="spacingAndGlyphs" style="stroke-width:0.18px">50</text>
<line x1="46.50" y1="534.07" x2="49.80" y2="534.07" stroke="#151515" stroke-width="1.1"/>
<text x="42.50" y="537.17" font-size="8.4" text-anchor="end" font-weight="normal" fill="#222" color="#222" textLength="7.99" lengthAdjust="spacingAndGlyphs" style="stroke-width:0.18px">30</text>
<line x1="46.50" y1="545.29" x2="49.80" y2="545.29" stroke="#151515" stroke-width="1.1"/>
<text x="42.50" y="548.39" font-size="8.4" text-anchor="end" font-weight="normal" fill="#222" color="#222" textLength="7.99" lengthAdjust="spacingAndGlyphs" style="stroke-width:0.18px">10</text>
<line x1="46.50" y1="556.60" x2="49.80" y2="556.60" stroke="#151515" stroke-width="1.1"/>
<text x="42.50" y="559.61" font-size="8.4" text-anchor="end" font-weight="normal" fill="#222" color="#222" textLength="12.19" lengthAdjust="spacingAndGlyphs" style="stroke-width:0.18px">−10</text>
<line x1="49.20" y1="556.60" x2="173.20" y2="556.60" stroke="#151515" stroke-width="1.2"/>
<line x1="65.40" y1="556.60" x2="65.40" y2="559.20" stroke="#151515" stroke-width="1"/>
<line x1="88.50" y1="556.60" x2="88.50" y2="559.20" stroke="#151515" stroke-width="1"/>
<line x1="111.50" y1="556.60" x2="111.50" y2="559.20" stroke="#151515" stroke-width="1"/>
<line x1="134.50" y1="556.60" x2="134.50" y2="559.20" stroke="#151515" stroke-width="1"/>
<line x1="157.60" y1="556.60" x2="157.60" y2="559.20" stroke="#151515" stroke-width="1"/>
<line x1="49.80" y1="550.80" x2="173.20" y2="550.80" stroke="#151515" stroke-width="1.1"/>
<text transform="translate(14.80,523.00) rotate(-90)" font-size="10.3" text-anchor="middle" font-weight="normal" fill="#222" color="#222" textLength="63.9" lengthAdjust="spacingAndGlyphs" style="stroke-width:0.16px">% Donor chimerism</text>
<text transform="translate(25.40,522.90) rotate(-90)" font-size="8.8" text-anchor="middle" font-weight="normal" fill="#222" color="#222" textLength="29.0" lengthAdjust="spacingAndGlyphs" style="stroke-width:0.16px">(H2Kd+)</text>
<rect x="80.90" y="525.70" width="15.00" height="25.20" fill="#9fdaa8"/>
<path d="M81.30,550.90V526.10H95.50V550.90" fill="none" stroke="#8bd297" stroke-width="0.8"/>
<line x1="88.40" y1="515.00" x2="88.40" y2="535.50" stroke="#1eaa42" stroke-width="1.1"/>
<line x1="84.90" y1="515.00" x2="91.90" y2="515.00" stroke="#1eaa42" stroke-width="1.1"/>
<line x1="84.90" y1="535.50" x2="91.90" y2="535.50" stroke="#1eaa42" stroke-width="1.1"/>
<rect x="104.00" y="513.00" width="15.00" height="37.90" fill="#ffc37f"/>
<path d="M104.40,550.90V513.40H118.60V550.90" fill="none" stroke="#ffb664" stroke-width="0.8"/>
<line x1="111.50" y1="506.60" x2="111.50" y2="519.70" stroke="#ff8a00" stroke-width="1.1"/>
<line x1="108.00" y1="506.60" x2="115.00" y2="506.60" stroke="#ff8a00" stroke-width="1.1"/>
<line x1="108.00" y1="519.70" x2="115.00" y2="519.70" stroke="#ff8a00" stroke-width="1.1"/>
<rect x="127.10" y="516.50" width="15.00" height="34.40" fill="#80a3c6"/>
<path d="M127.50,550.90V516.90H141.70V550.90" fill="none" stroke="#7699c0" stroke-width="0.8"/>
<line x1="134.60" y1="510.80" x2="134.60" y2="522.50" stroke="#1b5795" stroke-width="1.1"/>
<line x1="131.10" y1="510.80" x2="138.10" y2="510.80" stroke="#1b5795" stroke-width="1.1"/>
<line x1="131.10" y1="522.50" x2="138.10" y2="522.50" stroke="#1b5795" stroke-width="1.1"/>
<rect x="150.20" y="513.00" width="15.00" height="37.90" fill="#e1889b"/>
<path d="M150.60,550.90V513.40H164.80V550.90" fill="none" stroke="#d97a8e" stroke-width="0.8"/>
<line x1="157.70" y1="506.40" x2="157.70" y2="519.00" stroke="#c8102e" stroke-width="1.1"/>
<line x1="154.20" y1="506.40" x2="161.20" y2="506.40" stroke="#c8102e" stroke-width="1.1"/>
<line x1="154.20" y1="519.00" x2="161.20" y2="519.00" stroke="#c8102e" stroke-width="1.1"/>
<circle cx="60.70" cy="550.80" r="2.00" fill="#521566"/>
<circle cx="62.60" cy="550.80" r="2.00" fill="#521566"/>
<circle cx="64.50" cy="550.80" r="2.00" fill="#521566"/>
<circle cx="66.30" cy="550.80" r="2.00" fill="#521566"/>
<circle cx="68.20" cy="550.80" r="2.00" fill="#521566"/>
<circle cx="70.10" cy="550.80" r="2.00" fill="#521566"/>
<rect x="86.98" y="507.14" width="3.23" height="2.72" fill="#1eaa42"/>
<rect x="84.29" y="524.94" width="3.23" height="2.72" fill="#1eaa42"/>
<rect x="89.59" y="524.94" width="3.23" height="2.72" fill="#1eaa42"/>
<rect x="84.29" y="530.64" width="3.23" height="2.72" fill="#1eaa42"/>
<rect x="89.59" y="530.64" width="3.23" height="2.72" fill="#1eaa42"/>
<rect x="86.98" y="533.64" width="3.23" height="2.72" fill="#1eaa42"/>
<path d="M108.70,506.00L110.48,509.06L106.92,509.06Z" fill="#ff8a00"/>
<path d="M114.00,504.70L115.78,507.76L112.22,507.76Z" fill="#ff8a00"/>
<path d="M109.10,518.00L110.88,521.06L107.31,521.06Z" fill="#ff8a00"/>
<path d="M113.40,517.60L115.19,520.66L111.62,520.66Z" fill="#ff8a00"/>
<path d="M111.50,512.70L113.28,515.76L109.72,515.76Z" fill="#ff8a00"/>
<path d="M131.80,509.51L133.59,511.30L131.80,513.09L130.02,511.30Z" fill="#1b5795"/>
<path d="M137.30,509.51L139.09,511.30L137.30,513.09L135.52,511.30Z" fill="#1b5795"/>
<path d="M131.80,514.32L133.59,516.10L131.80,517.88L130.02,516.10Z" fill="#1b5795"/>
<path d="M137.30,517.32L139.09,519.10L137.30,520.88L135.52,519.10Z" fill="#1b5795"/>
<path d="M134.50,523.22L136.28,525.00L134.50,526.78L132.72,525.00Z" fill="#1b5795"/>
<path d="M152.50,511.50L154.28,508.44L150.72,508.44Z" fill="#c8102e"/>
<path d="M162.70,510.80L164.48,507.74L160.91,507.74Z" fill="#c8102e"/>
<path d="M157.60,514.00L159.38,510.94L155.81,510.94Z" fill="#c8102e"/>
<path d="M157.60,525.00L159.38,521.94L155.81,521.94Z" fill="#c8102e"/>
<line x1="65.40" y1="500.00" x2="87.00" y2="500.00" stroke="#333" stroke-width="1.2"/>
<line x1="65.90" y1="498.70" x2="65.90" y2="501.30" stroke="#333" stroke-width="1"/>
<line x1="86.50" y1="498.70" x2="86.50" y2="501.30" stroke="#333" stroke-width="1"/>
<path d="M72.65,496.80L72.65,495.65M72.65,496.80L71.56,496.44M72.65,496.80L71.97,497.73M72.65,496.80L73.33,497.73M72.65,496.80L73.74,496.44" stroke="#2a2a2a" stroke-width="1.1" stroke-linecap="round" fill="none"/>
<path d="M76.20,496.80L76.20,495.65M76.20,496.80L75.11,496.44M76.20,496.80L75.52,497.73M76.20,496.80L76.88,497.73M76.20,496.80L77.29,496.44" stroke="#2a2a2a" stroke-width="1.1" stroke-linecap="round" fill="none"/>
<path d="M79.75,496.80L79.75,495.65M79.75,496.80L78.66,496.44M79.75,496.80L79.07,497.73M79.75,496.80L80.43,497.73M79.75,496.80L80.84,496.44" stroke="#2a2a2a" stroke-width="1.1" stroke-linecap="round" fill="none"/>
<line x1="89.00" y1="499.60" x2="110.20" y2="499.60" stroke="#333" stroke-width="1.2"/>
<line x1="89.50" y1="498.30" x2="89.50" y2="500.90" stroke="#333" stroke-width="1"/>
<line x1="109.70" y1="498.30" x2="109.70" y2="500.90" stroke="#333" stroke-width="1"/>
<path d="M99.60,496.40L99.60,495.25M99.60,496.40L98.51,496.04M99.60,496.40L98.92,497.33M99.60,496.40L100.28,497.33M99.60,496.40L100.69,496.04" stroke="#2a2a2a" stroke-width="1.1" stroke-linecap="round" fill="none"/>
<line x1="88.20" y1="489.30" x2="157.60" y2="489.30" stroke="#333" stroke-width="1.2"/>
<line x1="88.70" y1="488.00" x2="88.70" y2="490.60" stroke="#333" stroke-width="1"/>
<line x1="157.10" y1="488.00" x2="157.10" y2="490.60" stroke="#333" stroke-width="1"/>
<path d="M120.60,486.10L120.60,484.95M120.60,486.10L119.51,485.74M120.60,486.10L119.92,487.03M120.60,486.10L121.28,487.03M120.60,486.10L121.69,485.74" stroke="#2a2a2a" stroke-width="1.1" stroke-linecap="round" fill="none"/>
<ellipse cx="113.90" cy="576.10" rx="2.00" ry="2.00" fill="#521566"/>
<text x="118.80" y="579.00" font-size="7.9" text-anchor="start" font-weight="normal" fill="#222" color="#222" textLength="103.1" lengthAdjust="spacingAndGlyphs" style="stroke-width:0.12px">50× (Isotype-ADC+anti-CD40L)</text>
<path d="M113.90,584.80L115.40,587.20L112.40,587.20Z" fill="#ff8a00"/>
<text x="118.80" y="588.90" font-size="7.9" text-anchor="start" font-weight="normal" fill="#222" color="#222" textLength="137.3" lengthAdjust="spacingAndGlyphs" style="stroke-width:0.12px">50× (CD45-ADC+anti-CD40L+Ruxolitinib)</text>
<path d="M113.90,597.10L115.40,594.70L112.40,594.70Z" fill="#c8102e"/>
<text x="118.80" y="598.80" font-size="7.9" text-anchor="start" font-weight="normal" fill="#222" color="#222" textLength="134.8" lengthAdjust="spacingAndGlyphs" style="stroke-width:0.12px">50× (CD45-ADC+anti-CD40L+Baricitinib)</text>
<rect x="264.10" y="574.90" width="3.40" height="2.40" fill="#1eaa42"/>
<text x="270.80" y="579.00" font-size="7.9" text-anchor="start" font-weight="normal" fill="#222" color="#222" textLength="97.8" lengthAdjust="spacingAndGlyphs" style="stroke-width:0.12px">50× (CD45-ADC+anti-CD40L)</text>
<path d="M265.80,584.35L267.45,585.85L265.80,587.35L264.15,585.85Z" fill="#1b5795"/>
<text x="270.80" y="588.75" font-size="7.9" text-anchor="start" font-weight="normal" fill="#222" color="#222" textLength="136.7" lengthAdjust="spacingAndGlyphs" style="stroke-width:0.12px">50× (CD45-ADC+anti-CD40L+Tofacitinib)</text>
<text x="267.85" y="472.40" font-size="11.3" text-anchor="middle" font-weight="bold" fill="#000" color="#000" textLength="7.68" lengthAdjust="spacingAndGlyphs" style="stroke-width:0px">F</text>
<line x1="317.20" y1="489.20" x2="317.20" y2="557.20" stroke="#151515" stroke-width="1.2"/>
<line x1="313.90" y1="490.05" x2="317.20" y2="490.05" stroke="#151515" stroke-width="1.1"/>
<text x="310.20" y="493.15" font-size="8.4" text-anchor="end" font-weight="normal" fill="#222" color="#222" textLength="11.99" lengthAdjust="spacingAndGlyphs" style="stroke-width:0.18px">100</text>
<line x1="313.90" y1="503.38" x2="317.20" y2="503.38" stroke="#151515" stroke-width="1.1"/>
<text x="310.20" y="506.48" font-size="8.4" text-anchor="end" font-weight="normal" fill="#222" color="#222" textLength="7.99" lengthAdjust="spacingAndGlyphs" style="stroke-width:0.18px">80</text>
<line x1="313.90" y1="516.71" x2="317.20" y2="516.71" stroke="#151515" stroke-width="1.1"/>
<text x="310.20" y="519.81" font-size="8.4" text-anchor="end" font-weight="normal" fill="#222" color="#222" textLength="7.99" lengthAdjust="spacingAndGlyphs" style="stroke-width:0.18px">60</text>
<line x1="313.90" y1="530.04" x2="317.20" y2="530.04" stroke="#151515" stroke-width="1.1"/>
<text x="310.20" y="533.14" font-size="8.4" text-anchor="end" font-weight="normal" fill="#222" color="#222" textLength="7.99" lengthAdjust="spacingAndGlyphs" style="stroke-width:0.18px">40</text>
<line x1="313.90" y1="543.37" x2="317.20" y2="543.37" stroke="#151515" stroke-width="1.1"/>
<text x="310.20" y="546.47" font-size="8.4" text-anchor="end" font-weight="normal" fill="#222" color="#222" textLength="7.99" lengthAdjust="spacingAndGlyphs" style="stroke-width:0.18px">20</text>
<line x1="313.90" y1="556.70" x2="317.20" y2="556.70" stroke="#151515" stroke-width="1.1"/>
<text x="310.20" y="559.80" font-size="8.4" text-anchor="end" font-weight="normal" fill="#222" color="#222" textLength="4.0" lengthAdjust="spacingAndGlyphs" style="stroke-width:0.18px">0</text>
<line x1="316.60" y1="556.70" x2="440.50" y2="556.70" stroke="#151515" stroke-width="1.2"/>
<line x1="332.40" y1="556.70" x2="332.40" y2="559.10" stroke="#151515" stroke-width="1"/>
<line x1="355.40" y1="556.70" x2="355.40" y2="559.10" stroke="#151515" stroke-width="1"/>
<line x1="378.60" y1="556.70" x2="378.60" y2="559.10" stroke="#151515" stroke-width="1"/>
<line x1="401.70" y1="556.70" x2="401.70" y2="559.10" stroke="#151515" stroke-width="1"/>
<line x1="425.00" y1="556.70" x2="425.00" y2="559.10" stroke="#151515" stroke-width="1"/>
<text transform="translate(273.40,523.00) rotate(-90)" font-size="9.7" text-anchor="middle" font-weight="normal" fill="#222" color="#222" textLength="58.5" lengthAdjust="spacingAndGlyphs" style="stroke-width:0.16px">% Donor treg cells</text>
<text transform="translate(284.20,523.20) rotate(-90)" font-size="9.3" text-anchor="middle" font-weight="normal" fill="#222" color="#222" textLength="56.0" lengthAdjust="spacingAndGlyphs" style="stroke-width:0.16px">(H2Kd/CD3/CD4/</text>
<text transform="translate(295.60,522.80) rotate(-90)" font-size="9.3" text-anchor="middle" font-weight="normal" fill="#222" color="#222" textLength="48.7" lengthAdjust="spacingAndGlyphs" style="stroke-width:0.16px">CD25/Foxp3+)</text>
<rect x="348.10" y="511.20" width="15.20" height="45.50" fill="#9fdaa8"/>
<path d="M348.50,556.70V511.60H362.90V556.70" fill="none" stroke="#8bd297" stroke-width="0.8"/>
<line x1="355.70" y1="509.60" x2="355.70" y2="515.40" stroke="#1eaa42" stroke-width="1.1"/>
<line x1="352.20" y1="509.60" x2="359.20" y2="509.60" stroke="#1eaa42" stroke-width="1.1"/>
<line x1="352.20" y1="515.40" x2="359.20" y2="515.40" stroke="#1eaa42" stroke-width="1.1"/>
<rect x="371.30" y="506.80" width="15.20" height="49.90" fill="#ffc37f"/>
<path d="M371.70,556.70V507.20H386.10V556.70" fill="none" stroke="#ffb664" stroke-width="0.8"/>
<line x1="378.90" y1="502.70" x2="378.90" y2="511.20" stroke="#ff8a00" stroke-width="1.1"/>
<line x1="375.40" y1="502.70" x2="382.40" y2="502.70" stroke="#ff8a00" stroke-width="1.1"/>
<line x1="375.40" y1="511.20" x2="382.40" y2="511.20" stroke="#ff8a00" stroke-width="1.1"/>
<rect x="394.30" y="507.80" width="15.20" height="48.90" fill="#80a3c6"/>
<path d="M394.70,556.70V508.20H409.10V556.70" fill="none" stroke="#7699c0" stroke-width="0.8"/>
<line x1="401.90" y1="503.00" x2="401.90" y2="509.00" stroke="#1b5795" stroke-width="1.1"/>
<line x1="398.40" y1="503.00" x2="405.40" y2="503.00" stroke="#1b5795" stroke-width="1.1"/>
<line x1="398.40" y1="509.00" x2="405.40" y2="509.00" stroke="#1b5795" stroke-width="1.1"/>
<rect x="417.60" y="512.30" width="15.20" height="44.40" fill="#e1889b"/>
<path d="M418.00,556.70V512.70H432.40V556.70" fill="none" stroke="#d97a8e" stroke-width="0.8"/>
<line x1="425.20" y1="505.70" x2="425.20" y2="520.50" stroke="#c8102e" stroke-width="1.1"/>
<line x1="421.70" y1="505.70" x2="428.70" y2="505.70" stroke="#c8102e" stroke-width="1.1"/>
<line x1="421.70" y1="520.50" x2="428.70" y2="520.50" stroke="#c8102e" stroke-width="1.1"/>
<circle cx="328.00" cy="556.50" r="2.00" fill="#521566"/>
<circle cx="329.80" cy="556.50" r="2.00" fill="#521566"/>
<circle cx="331.50" cy="556.50" r="2.00" fill="#521566"/>
<circle cx="333.30" cy="556.50" r="2.00" fill="#521566"/>
<circle cx="335.00" cy="556.50" r="2.00" fill="#521566"/>
<circle cx="336.80" cy="556.50" r="2.00" fill="#521566"/>
<rect x="349.58" y="508.94" width="3.23" height="2.72" fill="#1eaa42"/>
<rect x="352.99" y="508.94" width="3.23" height="2.72" fill="#1eaa42"/>
<rect x="357.58" y="508.94" width="3.23" height="2.72" fill="#1eaa42"/>
<rect x="352.38" y="511.24" width="3.23" height="2.72" fill="#1eaa42"/>
<rect x="355.78" y="511.24" width="3.23" height="2.72" fill="#1eaa42"/>
<rect x="354.19" y="518.14" width="3.23" height="2.72" fill="#1eaa42"/>
<path d="M373.50,503.30L375.29,506.36L371.71,506.36Z" fill="#ff8a00"/>
<path d="M383.50,500.50L385.29,503.56L381.71,503.56Z" fill="#ff8a00"/>
<path d="M378.80,504.50L380.59,507.56L377.01,507.56Z" fill="#ff8a00"/>
<path d="M375.90,509.50L377.69,512.56L374.11,512.56Z" fill="#ff8a00"/>
<path d="M381.20,506.80L382.99,509.86L379.41,509.86Z" fill="#ff8a00"/>
<path d="M401.90,500.91L403.69,502.70L401.90,504.49L400.11,502.70Z" fill="#1b5795"/>
<path d="M398.50,506.71L400.29,508.50L398.50,510.29L396.71,508.50Z" fill="#1b5795"/>
<path d="M405.40,506.71L407.19,508.50L405.40,510.29L403.61,508.50Z" fill="#1b5795"/>
<path d="M401.90,507.11L403.69,508.90L401.90,510.69L400.11,508.90Z" fill="#1b5795"/>
<path d="M408.90,506.01L410.69,507.80L408.90,509.59L407.11,507.80Z" fill="#1b5795"/>
<path d="M419.70,509.00L421.49,505.94L417.91,505.94Z" fill="#c8102e"/>
<path d="M430.30,507.90L432.09,504.84L428.51,504.84Z" fill="#c8102e"/>
<path d="M422.70,522.20L424.49,519.14L420.91,519.14Z" fill="#c8102e"/>
<path d="M427.30,521.20L429.09,518.14L425.51,518.14Z" fill="#c8102e"/>
<line x1="329.70" y1="502.90" x2="351.60" y2="502.90" stroke="#333" stroke-width="1.2"/>
<line x1="330.20" y1="501.60" x2="330.20" y2="504.20" stroke="#333" stroke-width="1"/>
<line x1="351.10" y1="501.60" x2="351.10" y2="504.20" stroke="#333" stroke-width="1"/>
<path d="M335.32,499.70L335.32,498.55M335.32,499.70L334.23,499.34M335.32,499.70L334.65,500.63M335.32,499.70L336.00,500.63M335.32,499.70L336.42,499.34" stroke="#2a2a2a" stroke-width="1.1" stroke-linecap="round" fill="none"/>
<path d="M338.88,499.70L338.88,498.55M338.88,499.70L337.78,499.34M338.88,499.70L338.20,500.63M338.88,499.70L339.55,500.63M338.88,499.70L339.97,499.34" stroke="#2a2a2a" stroke-width="1.1" stroke-linecap="round" fill="none"/>
<path d="M342.43,499.70L342.43,498.55M342.43,499.70L341.33,499.34M342.43,499.70L341.75,500.63M342.43,499.70L343.10,500.63M342.43,499.70L343.52,499.34" stroke="#2a2a2a" stroke-width="1.1" stroke-linecap="round" fill="none"/>
<path d="M345.97,499.70L345.97,498.55M345.97,499.70L344.88,499.34M345.97,499.70L345.30,500.63M345.97,499.70L346.65,500.63M345.97,499.70L347.07,499.34" stroke="#2a2a2a" stroke-width="1.1" stroke-linecap="round" fill="none"/>
<line x1="355.80" y1="494.60" x2="377.70" y2="494.60" stroke="#333" stroke-width="1.2"/>
<line x1="356.30" y1="493.30" x2="356.30" y2="495.90" stroke="#333" stroke-width="1"/>
<line x1="377.20" y1="493.30" x2="377.20" y2="495.90" stroke="#333" stroke-width="1"/>
<path d="M366.75,491.40L366.75,490.25M366.75,491.40L365.66,491.04M366.75,491.40L366.07,492.33M366.75,491.40L367.43,492.33M366.75,491.40L367.84,491.04" stroke="#2a2a2a" stroke-width="1.1" stroke-linecap="round" fill="none"/>
<line x1="355.80" y1="485.40" x2="399.60" y2="485.40" stroke="#333" stroke-width="1.2"/>
<line x1="356.30" y1="484.10" x2="356.30" y2="486.70" stroke="#333" stroke-width="1"/>
<line x1="399.10" y1="484.10" x2="399.10" y2="486.70" stroke="#333" stroke-width="1"/>
<path d="M377.70,482.20L377.70,481.05M377.70,482.20L376.61,481.84M377.70,482.20L377.02,483.13M377.70,482.20L378.38,483.13M377.70,482.20L378.79,481.84" stroke="#2a2a2a" stroke-width="1.1" stroke-linecap="round" fill="none"/>
<line x1="355.80" y1="476.20" x2="424.30" y2="476.20" stroke="#333" stroke-width="1.2"/>
<line x1="356.30" y1="474.90" x2="356.30" y2="477.50" stroke="#333" stroke-width="1"/>
<line x1="423.80" y1="474.90" x2="423.80" y2="477.50" stroke="#333" stroke-width="1"/>
<text x="390.10" y="472.80" font-size="8.5" text-anchor="middle" font-weight="normal" fill="#333" color="#333" textLength="24.9" lengthAdjust="spacingAndGlyphs">P=0.78</text>
</g>
<rect x="0" y="0" width="520" height="1.1" fill="#000"/><rect x="0" y="0" width="1.1" height="605" fill="#000"/><rect x="519" y="0" width="1" height="605" fill="#000"/><rect x="0" y="603.8" width="520" height="1.2" fill="#000"/>
</svg>
</body></html>
